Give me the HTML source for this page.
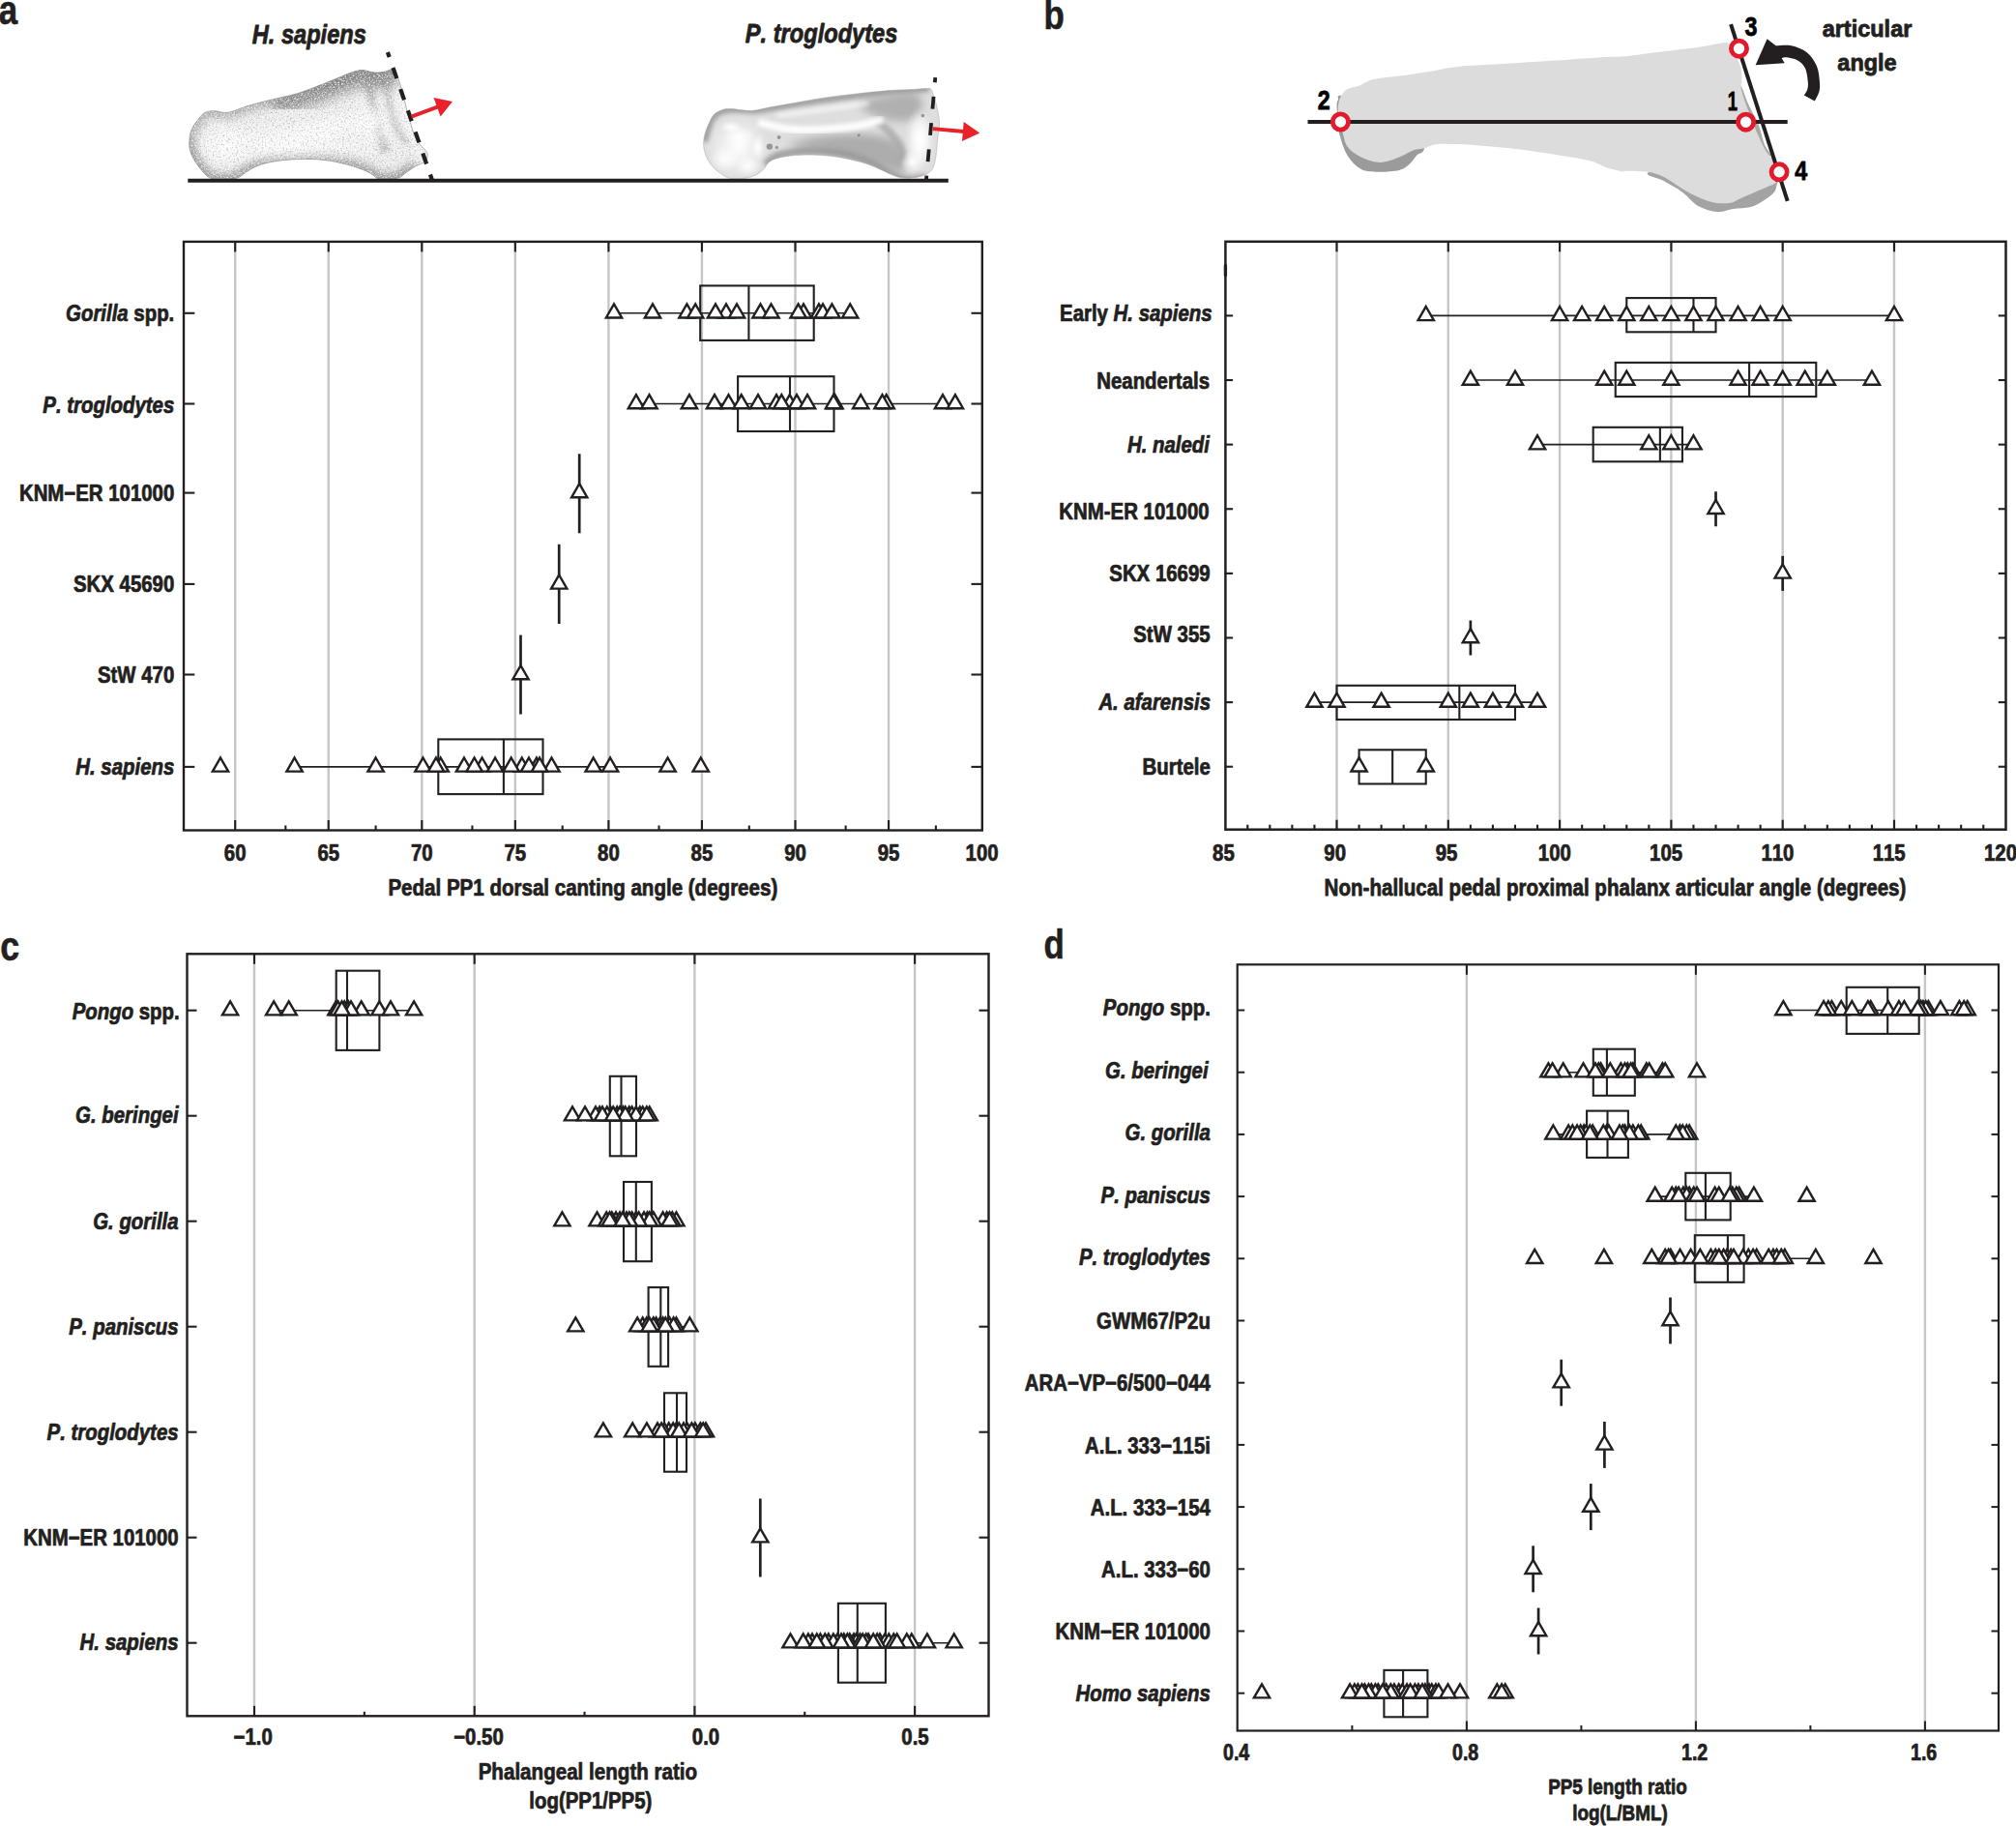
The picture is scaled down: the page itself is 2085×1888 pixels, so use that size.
<!DOCTYPE html>
<html lang="en"><head><meta charset="utf-8"><title>Figure</title>
<style>html,body{margin:0;padding:0;background:#fff}svg{display:block}</style></head>
<body>
<svg width="2085" height="1888" viewBox="0 0 2085 1888" font-family="'Liberation Sans', Arial, Helvetica, sans-serif" font-weight="bold" font-kerning="none" style="font-kerning:none">
<rect width="2085" height="1888" fill="#fff"/>
<defs><clipPath id="clipH"><path d="M218.8 184.7C213.2 182.5 208.9 176.6 205.3 172.0C201.6 167.4 198.4 161.6 196.9 156.8C195.3 152.1 195.7 147.3 196.0 143.3C196.3 139.4 197.0 136.6 198.5 133.2C200.1 129.8 203.0 125.9 205.3 123.1C207.5 120.3 209.2 117.8 212.0 116.4C214.9 115.0 218.2 114.7 222.2 114.7C226.1 114.7 230.0 117.2 235.6 116.4C241.3 115.5 248.3 111.9 255.9 109.6C263.5 107.4 272.7 105.0 281.2 102.9C289.6 100.8 298.0 99.5 306.5 97.0C314.9 94.4 324.7 90.4 331.8 87.7C338.8 85.0 343.0 83.2 348.6 80.9C354.3 78.7 361.0 75.6 365.5 74.2C370.0 72.8 372.0 72.4 375.6 72.5C379.3 72.7 383.8 74.8 387.4 75.0C391.1 75.3 394.7 74.8 397.5 74.2C400.3 73.6 402.7 72.2 404.3 71.7C405.9 71.1 406.3 70.0 407.3 70.8C408.3 71.7 408.9 73.2 410.2 76.7C411.5 80.2 413.3 85.0 415.2 91.9C417.2 98.8 419.5 109.5 422.0 118.0C424.5 126.6 427.1 137.2 430.1 143.3C433.0 149.5 437.7 152.3 439.7 155.1C441.7 158.0 442.2 158.2 442.2 160.2C442.2 162.2 441.8 165.0 439.7 166.9C437.6 168.9 433.0 170.0 429.6 172.0C426.2 174.0 422.3 176.8 419.5 178.8C416.6 180.7 416.1 182.7 412.7 183.8C409.3 184.9 402.9 185.0 399.2 185.2C395.6 185.3 393.6 185.7 390.8 184.7C388.0 183.6 386.6 180.9 382.4 178.8C378.1 176.6 372.5 174.1 365.5 172.0C358.5 169.9 348.6 167.4 340.2 166.1C331.8 164.8 323.3 164.4 314.9 164.4C306.5 164.4 297.2 165.1 289.6 166.1C282.0 167.1 275.0 168.5 269.4 170.3C263.8 172.1 259.5 175.0 255.9 177.1C252.2 179.2 250.3 181.6 247.5 183.0C244.6 184.3 243.8 184.9 239.0 185.2C234.2 185.4 224.4 186.8 218.8 184.7Z"/></clipPath>
<linearGradient id="gH" x1="0" y1="0" x2="0" y2="1"><stop offset="0" stop-color="#a8a8a8"/><stop offset="0.25" stop-color="#cfcfcf"/><stop offset="0.6" stop-color="#ececec"/><stop offset="0.85" stop-color="#dedede"/><stop offset="1" stop-color="#b8b8b8"/></linearGradient>
<radialGradient id="gHw" cx="0.5" cy="0.5" r="0.5"><stop offset="0" stop-color="#fff" stop-opacity="0.95"/><stop offset="1" stop-color="#fff" stop-opacity="0"/></radialGradient>
<radialGradient id="gHd" cx="0.5" cy="0.5" r="0.5"><stop offset="0" stop-color="#8c8c8c" stop-opacity="0.75"/><stop offset="1" stop-color="#8c8c8c" stop-opacity="0"/></radialGradient>
<filter id="noise" x="0" y="0" width="100%" height="100%"><feTurbulence type="fractalNoise" baseFrequency="0.55" numOctaves="2" seed="3" result="n"/><feColorMatrix type="matrix" values="0 0 0 0 0.35  0 0 0 0 0.35  0 0 0 0 0.35  1.8 0 0 0 -0.86"/></filter>
<filter id="noiseW" x="0" y="0" width="100%" height="100%"><feTurbulence type="fractalNoise" baseFrequency="0.6" numOctaves="2" seed="8" result="n"/><feColorMatrix type="matrix" values="0 0 0 0 1  0 0 0 0 1  0 0 0 0 1  0 2.2 0 0 -0.95"/></filter>
<filter id="blur2" x="-30%" y="-30%" width="160%" height="160%"><feGaussianBlur stdDeviation="2"/></filter>
<filter id="blur4" x="-30%" y="-30%" width="160%" height="160%"><feGaussianBlur stdDeviation="4"/></filter>
<filter id="blur6" x="-30%" y="-30%" width="160%" height="160%"><feGaussianBlur stdDeviation="6"/></filter>
<clipPath id="clipC"><path d="M755.6 184.7C750.9 183.5 746.1 180.3 742.2 177.1C738.2 173.8 734.4 169.5 732.0 165.3C729.7 161.0 728.4 156.0 727.8 151.8C727.3 147.6 727.8 143.9 728.7 140.0C729.5 136.0 731.2 131.8 732.9 128.2C734.6 124.5 736.1 120.6 738.8 118.0C741.5 115.5 745.8 113.9 748.9 113.0C752.0 112.1 754.2 112.5 757.3 112.6C760.4 112.8 763.8 113.5 767.5 113.8C771.1 114.1 774.8 114.8 779.3 114.3C783.8 113.9 788.0 112.5 794.4 111.3C800.9 110.1 808.5 108.8 818.0 107.1C827.6 105.4 840.5 102.9 851.8 101.2C863.0 99.5 874.3 98.2 885.5 97.0C896.7 95.7 909.4 94.4 919.2 93.6C929.1 92.8 937.8 92.8 944.5 92.4C951.3 92.0 956.6 91.3 959.7 91.4C962.8 91.5 961.9 91.1 963.1 92.7C964.2 94.4 965.3 97.5 966.4 101.2C967.6 104.8 969.0 110.2 969.8 114.7C970.7 119.2 971.5 123.4 971.5 128.2C971.5 132.9 970.4 138.0 969.8 143.3C969.3 148.7 968.8 155.4 968.1 160.2C967.4 165.0 966.9 168.9 965.6 172.0C964.3 175.1 963.2 176.9 960.5 178.8C957.9 180.6 953.7 182.1 949.6 183.0C945.5 183.9 940.0 184.3 936.1 184.1C932.2 184.0 930.2 183.6 926.0 182.1C921.8 180.7 916.1 177.6 910.8 175.4C905.5 173.1 901.0 170.7 893.9 168.6C886.9 166.5 877.1 164.1 868.6 162.7C860.2 161.3 851.8 160.5 843.3 160.2C834.9 159.9 825.1 160.3 818.0 161.0C811.0 161.7 805.1 163.2 801.2 164.4C797.2 165.7 796.4 166.8 794.4 168.6C792.5 170.5 791.6 173.3 789.4 175.4C787.1 177.5 784.0 179.8 780.9 181.3C777.9 182.7 775.0 183.6 770.8 184.1C766.6 184.7 760.4 185.8 755.6 184.7Z"/></clipPath>
<linearGradient id="gC" x1="0" y1="0" x2="0" y2="1"><stop offset="0" stop-color="#b5b5b5"/><stop offset="0.2" stop-color="#d9d9d9"/><stop offset="0.55" stop-color="#eeeeee"/><stop offset="0.85" stop-color="#e2e2e2"/><stop offset="1" stop-color="#bdbdbd"/></linearGradient></defs>
<text transform="translate(-1.20,24.50) scale(0.83,1)" font-size="42" text-anchor="start" fill="#231f20" stroke="#231f20" stroke-width="0.6" stroke-linejoin="round">a</text>
<text transform="translate(1079.60,30.10) scale(0.83,1)" font-size="42" text-anchor="start" fill="#231f20" stroke="#231f20" stroke-width="0.6" stroke-linejoin="round">b</text>
<text transform="translate(0.20,992.50) scale(0.85,1)" font-size="42" text-anchor="start" fill="#231f20" stroke="#231f20" stroke-width="0.6" stroke-linejoin="round">c</text>
<text transform="translate(1079.60,990.70) scale(0.83,1)" font-size="42" text-anchor="start" fill="#231f20" stroke="#231f20" stroke-width="0.6" stroke-linejoin="round">d</text>
<line x1="243.20" y1="249.90" x2="243.20" y2="858.50" stroke="#c6c6c6" stroke-width="2.4"/>
<line x1="339.75" y1="249.90" x2="339.75" y2="858.50" stroke="#c6c6c6" stroke-width="2.4"/>
<line x1="436.30" y1="249.90" x2="436.30" y2="858.50" stroke="#c6c6c6" stroke-width="2.4"/>
<line x1="532.85" y1="249.90" x2="532.85" y2="858.50" stroke="#c6c6c6" stroke-width="2.4"/>
<line x1="629.40" y1="249.90" x2="629.40" y2="858.50" stroke="#c6c6c6" stroke-width="2.4"/>
<line x1="725.95" y1="249.90" x2="725.95" y2="858.50" stroke="#c6c6c6" stroke-width="2.4"/>
<line x1="822.50" y1="249.90" x2="822.50" y2="858.50" stroke="#c6c6c6" stroke-width="2.4"/>
<line x1="919.05" y1="249.90" x2="919.05" y2="858.50" stroke="#c6c6c6" stroke-width="2.4"/>
<rect x="190.0" y="249.9" width="825.80" height="608.60" fill="none" stroke="#231f20" stroke-width="2.4"/>
<line x1="243.20" y1="249.90" x2="243.20" y2="260.40" stroke="#231f20" stroke-width="2.1"/>
<line x1="339.75" y1="249.90" x2="339.75" y2="260.40" stroke="#231f20" stroke-width="2.1"/>
<line x1="436.30" y1="249.90" x2="436.30" y2="260.40" stroke="#231f20" stroke-width="2.1"/>
<line x1="532.85" y1="249.90" x2="532.85" y2="260.40" stroke="#231f20" stroke-width="2.1"/>
<line x1="629.40" y1="249.90" x2="629.40" y2="260.40" stroke="#231f20" stroke-width="2.1"/>
<line x1="725.95" y1="249.90" x2="725.95" y2="260.40" stroke="#231f20" stroke-width="2.1"/>
<line x1="822.50" y1="249.90" x2="822.50" y2="260.40" stroke="#231f20" stroke-width="2.1"/>
<line x1="919.05" y1="249.90" x2="919.05" y2="260.40" stroke="#231f20" stroke-width="2.1"/>
<line x1="243.20" y1="858.50" x2="243.20" y2="848.00" stroke="#231f20" stroke-width="2.1"/>
<line x1="339.75" y1="858.50" x2="339.75" y2="848.00" stroke="#231f20" stroke-width="2.1"/>
<line x1="436.30" y1="858.50" x2="436.30" y2="848.00" stroke="#231f20" stroke-width="2.1"/>
<line x1="532.85" y1="858.50" x2="532.85" y2="848.00" stroke="#231f20" stroke-width="2.1"/>
<line x1="629.40" y1="858.50" x2="629.40" y2="848.00" stroke="#231f20" stroke-width="2.1"/>
<line x1="725.95" y1="858.50" x2="725.95" y2="848.00" stroke="#231f20" stroke-width="2.1"/>
<line x1="822.50" y1="858.50" x2="822.50" y2="848.00" stroke="#231f20" stroke-width="2.1"/>
<line x1="919.05" y1="858.50" x2="919.05" y2="848.00" stroke="#231f20" stroke-width="2.1"/>
<line x1="295.34" y1="858.50" x2="295.34" y2="853.50" stroke="#231f20" stroke-width="2.1"/>
<line x1="388.60" y1="858.50" x2="388.60" y2="853.50" stroke="#231f20" stroke-width="2.1"/>
<line x1="488.44" y1="858.50" x2="488.44" y2="853.50" stroke="#231f20" stroke-width="2.1"/>
<line x1="581.70" y1="858.50" x2="581.70" y2="853.50" stroke="#231f20" stroke-width="2.1"/>
<line x1="681.54" y1="858.50" x2="681.54" y2="853.50" stroke="#231f20" stroke-width="2.1"/>
<line x1="774.80" y1="858.50" x2="774.80" y2="853.50" stroke="#231f20" stroke-width="2.1"/>
<line x1="874.64" y1="858.50" x2="874.64" y2="853.50" stroke="#231f20" stroke-width="2.1"/>
<line x1="967.90" y1="858.50" x2="967.90" y2="853.50" stroke="#231f20" stroke-width="2.1"/>
<line x1="190.00" y1="323.80" x2="201.30" y2="323.80" stroke="#231f20" stroke-width="2.1"/>
<line x1="1015.80" y1="323.80" x2="1004.50" y2="323.80" stroke="#231f20" stroke-width="2.1"/>
<line x1="190.00" y1="417.50" x2="201.30" y2="417.50" stroke="#231f20" stroke-width="2.1"/>
<line x1="1015.80" y1="417.50" x2="1004.50" y2="417.50" stroke="#231f20" stroke-width="2.1"/>
<line x1="190.00" y1="509.60" x2="201.30" y2="509.60" stroke="#231f20" stroke-width="2.1"/>
<line x1="1015.80" y1="509.60" x2="1004.50" y2="509.60" stroke="#231f20" stroke-width="2.1"/>
<line x1="190.00" y1="603.90" x2="201.30" y2="603.90" stroke="#231f20" stroke-width="2.1"/>
<line x1="1015.80" y1="603.90" x2="1004.50" y2="603.90" stroke="#231f20" stroke-width="2.1"/>
<line x1="190.00" y1="697.50" x2="201.30" y2="697.50" stroke="#231f20" stroke-width="2.1"/>
<line x1="1015.80" y1="697.50" x2="1004.50" y2="697.50" stroke="#231f20" stroke-width="2.1"/>
<line x1="190.00" y1="792.90" x2="201.30" y2="792.90" stroke="#231f20" stroke-width="2.1"/>
<line x1="1015.80" y1="792.90" x2="1004.50" y2="792.90" stroke="#231f20" stroke-width="2.1"/>
<rect x="724.20" y="295.40" width="117.50" height="56.50" fill="none" stroke="#231f20" stroke-width="2.1"/>
<line x1="774.40" y1="295.40" x2="774.40" y2="351.90" stroke="#231f20" stroke-width="2.1"/>
<line x1="635.00" y1="323.80" x2="879.20" y2="323.80" stroke="#231f20" stroke-width="1.6"/>
<path d="M710.40 314.40L718.54 328.50L702.26 328.50Z" fill="#fff" stroke="#231f20" stroke-width="2.4" stroke-linejoin="miter"/>
<path d="M751.00 314.40L759.14 328.50L742.86 328.50Z" fill="#fff" stroke="#231f20" stroke-width="2.4" stroke-linejoin="miter"/>
<path d="M786.50 314.40L794.64 328.50L778.36 328.50Z" fill="#fff" stroke="#231f20" stroke-width="2.4" stroke-linejoin="miter"/>
<path d="M831.00 314.40L839.14 328.50L822.86 328.50Z" fill="#fff" stroke="#231f20" stroke-width="2.4" stroke-linejoin="miter"/>
<path d="M846.90 314.40L855.04 328.50L838.76 328.50Z" fill="#fff" stroke="#231f20" stroke-width="2.4" stroke-linejoin="miter"/>
<path d="M635.00 314.40L643.14 328.50L626.86 328.50Z" fill="#fff" stroke="#231f20" stroke-width="2.4" stroke-linejoin="miter"/>
<path d="M675.00 314.40L683.14 328.50L666.86 328.50Z" fill="#fff" stroke="#231f20" stroke-width="2.4" stroke-linejoin="miter"/>
<path d="M719.20 314.40L727.34 328.50L711.06 328.50Z" fill="#fff" stroke="#231f20" stroke-width="2.4" stroke-linejoin="miter"/>
<path d="M740.00 314.40L748.14 328.50L731.86 328.50Z" fill="#fff" stroke="#231f20" stroke-width="2.4" stroke-linejoin="miter"/>
<path d="M762.00 314.40L770.14 328.50L753.86 328.50Z" fill="#fff" stroke="#231f20" stroke-width="2.4" stroke-linejoin="miter"/>
<path d="M797.50 314.40L805.64 328.50L789.36 328.50Z" fill="#fff" stroke="#231f20" stroke-width="2.4" stroke-linejoin="miter"/>
<path d="M825.60 314.40L833.74 328.50L817.46 328.50Z" fill="#fff" stroke="#231f20" stroke-width="2.4" stroke-linejoin="miter"/>
<path d="M851.00 314.40L859.14 328.50L842.86 328.50Z" fill="#fff" stroke="#231f20" stroke-width="2.4" stroke-linejoin="miter"/>
<path d="M860.40 314.40L868.54 328.50L852.26 328.50Z" fill="#fff" stroke="#231f20" stroke-width="2.4" stroke-linejoin="miter"/>
<path d="M879.20 314.40L887.34 328.50L871.06 328.50Z" fill="#fff" stroke="#231f20" stroke-width="2.4" stroke-linejoin="miter"/>
<rect x="763.10" y="389.20" width="99.40" height="56.80" fill="none" stroke="#231f20" stroke-width="2.1"/>
<line x1="817.00" y1="389.20" x2="817.00" y2="446.00" stroke="#231f20" stroke-width="2.1"/>
<line x1="657.90" y1="417.50" x2="987.90" y2="417.50" stroke="#231f20" stroke-width="1.6"/>
<path d="M803.00 408.10L811.14 422.20L794.86 422.20Z" fill="#fff" stroke="#231f20" stroke-width="2.4" stroke-linejoin="miter"/>
<path d="M816.70 408.10L824.84 422.20L808.56 422.20Z" fill="#fff" stroke="#231f20" stroke-width="2.4" stroke-linejoin="miter"/>
<path d="M863.50 408.10L871.64 422.20L855.36 422.20Z" fill="#fff" stroke="#231f20" stroke-width="2.4" stroke-linejoin="miter"/>
<path d="M916.70 408.10L924.84 422.20L908.56 422.20Z" fill="#fff" stroke="#231f20" stroke-width="2.4" stroke-linejoin="miter"/>
<path d="M657.90 408.10L666.04 422.20L649.76 422.20Z" fill="#fff" stroke="#231f20" stroke-width="2.4" stroke-linejoin="miter"/>
<path d="M671.50 408.10L679.64 422.20L663.36 422.20Z" fill="#fff" stroke="#231f20" stroke-width="2.4" stroke-linejoin="miter"/>
<path d="M712.90 408.10L721.04 422.20L704.76 422.20Z" fill="#fff" stroke="#231f20" stroke-width="2.4" stroke-linejoin="miter"/>
<path d="M739.00 408.10L747.14 422.20L730.86 422.20Z" fill="#fff" stroke="#231f20" stroke-width="2.4" stroke-linejoin="miter"/>
<path d="M753.50 408.10L761.64 422.20L745.36 422.20Z" fill="#fff" stroke="#231f20" stroke-width="2.4" stroke-linejoin="miter"/>
<path d="M766.70 408.10L774.84 422.20L758.56 422.20Z" fill="#fff" stroke="#231f20" stroke-width="2.4" stroke-linejoin="miter"/>
<path d="M784.00 408.10L792.14 422.20L775.86 422.20Z" fill="#fff" stroke="#231f20" stroke-width="2.4" stroke-linejoin="miter"/>
<path d="M808.30 408.10L816.44 422.20L800.16 422.20Z" fill="#fff" stroke="#231f20" stroke-width="2.4" stroke-linejoin="miter"/>
<path d="M824.00 408.10L832.14 422.20L815.86 422.20Z" fill="#fff" stroke="#231f20" stroke-width="2.4" stroke-linejoin="miter"/>
<path d="M835.00 408.10L843.14 422.20L826.86 422.20Z" fill="#fff" stroke="#231f20" stroke-width="2.4" stroke-linejoin="miter"/>
<path d="M862.00 408.10L870.14 422.20L853.86 422.20Z" fill="#fff" stroke="#231f20" stroke-width="2.4" stroke-linejoin="miter"/>
<path d="M890.20 408.10L898.34 422.20L882.06 422.20Z" fill="#fff" stroke="#231f20" stroke-width="2.4" stroke-linejoin="miter"/>
<path d="M912.50 408.10L920.64 422.20L904.36 422.20Z" fill="#fff" stroke="#231f20" stroke-width="2.4" stroke-linejoin="miter"/>
<path d="M975.00 408.10L983.14 422.20L966.86 422.20Z" fill="#fff" stroke="#231f20" stroke-width="2.4" stroke-linejoin="miter"/>
<path d="M987.90 408.10L996.04 422.20L979.76 422.20Z" fill="#fff" stroke="#231f20" stroke-width="2.4" stroke-linejoin="miter"/>
<line x1="599.20" y1="469.30" x2="599.20" y2="551.30" stroke="#231f20" stroke-width="2.7"/>
<path d="M599.20 500.20L607.34 514.30L591.06 514.30Z" fill="#fff" stroke="#231f20" stroke-width="2.4" stroke-linejoin="miter"/>
<line x1="578.20" y1="562.80" x2="578.20" y2="645.00" stroke="#231f20" stroke-width="2.7"/>
<path d="M578.20 594.50L586.34 608.60L570.06 608.60Z" fill="#fff" stroke="#231f20" stroke-width="2.4" stroke-linejoin="miter"/>
<line x1="538.50" y1="656.60" x2="538.50" y2="738.50" stroke="#231f20" stroke-width="2.7"/>
<path d="M538.50 688.10L546.64 702.20L530.36 702.20Z" fill="#fff" stroke="#231f20" stroke-width="2.4" stroke-linejoin="miter"/>
<rect x="453.30" y="764.40" width="108.20" height="56.70" fill="none" stroke="#231f20" stroke-width="2.1"/>
<line x1="520.90" y1="764.40" x2="520.90" y2="821.10" stroke="#231f20" stroke-width="2.1"/>
<line x1="304.60" y1="792.90" x2="690.60" y2="792.90" stroke="#231f20" stroke-width="1.6"/>
<path d="M455.70 783.50L463.84 797.60L447.56 797.60Z" fill="#fff" stroke="#231f20" stroke-width="2.4" stroke-linejoin="miter"/>
<path d="M480.00 783.50L488.14 797.60L471.86 797.60Z" fill="#fff" stroke="#231f20" stroke-width="2.4" stroke-linejoin="miter"/>
<path d="M498.60 783.50L506.74 797.60L490.46 797.60Z" fill="#fff" stroke="#231f20" stroke-width="2.4" stroke-linejoin="miter"/>
<path d="M539.80 783.50L547.94 797.60L531.66 797.60Z" fill="#fff" stroke="#231f20" stroke-width="2.4" stroke-linejoin="miter"/>
<path d="M555.00 783.50L563.14 797.60L546.86 797.60Z" fill="#fff" stroke="#231f20" stroke-width="2.4" stroke-linejoin="miter"/>
<path d="M570.50 783.50L578.64 797.60L562.36 797.60Z" fill="#fff" stroke="#231f20" stroke-width="2.4" stroke-linejoin="miter"/>
<path d="M228.00 783.50L236.14 797.60L219.86 797.60Z" fill="#fff" stroke="#231f20" stroke-width="2.4" stroke-linejoin="miter"/>
<path d="M304.60 783.50L312.74 797.60L296.46 797.60Z" fill="#fff" stroke="#231f20" stroke-width="2.4" stroke-linejoin="miter"/>
<path d="M388.60 783.50L396.74 797.60L380.46 797.60Z" fill="#fff" stroke="#231f20" stroke-width="2.4" stroke-linejoin="miter"/>
<path d="M437.50 783.50L445.64 797.60L429.36 797.60Z" fill="#fff" stroke="#231f20" stroke-width="2.4" stroke-linejoin="miter"/>
<path d="M451.00 783.50L459.14 797.60L442.86 797.60Z" fill="#fff" stroke="#231f20" stroke-width="2.4" stroke-linejoin="miter"/>
<path d="M490.60 783.50L498.74 797.60L482.46 797.60Z" fill="#fff" stroke="#231f20" stroke-width="2.4" stroke-linejoin="miter"/>
<path d="M512.10 783.50L520.24 797.60L503.96 797.60Z" fill="#fff" stroke="#231f20" stroke-width="2.4" stroke-linejoin="miter"/>
<path d="M528.70 783.50L536.84 797.60L520.56 797.60Z" fill="#fff" stroke="#231f20" stroke-width="2.4" stroke-linejoin="miter"/>
<path d="M547.00 783.50L555.14 797.60L538.86 797.60Z" fill="#fff" stroke="#231f20" stroke-width="2.4" stroke-linejoin="miter"/>
<path d="M558.10 783.50L566.24 797.60L549.96 797.60Z" fill="#fff" stroke="#231f20" stroke-width="2.4" stroke-linejoin="miter"/>
<path d="M613.70 783.50L621.84 797.60L605.56 797.60Z" fill="#fff" stroke="#231f20" stroke-width="2.4" stroke-linejoin="miter"/>
<path d="M631.10 783.50L639.24 797.60L622.96 797.60Z" fill="#fff" stroke="#231f20" stroke-width="2.4" stroke-linejoin="miter"/>
<path d="M690.60 783.50L698.74 797.60L682.46 797.60Z" fill="#fff" stroke="#231f20" stroke-width="2.4" stroke-linejoin="miter"/>
<path d="M724.80 783.50L732.94 797.60L716.66 797.60Z" fill="#fff" stroke="#231f20" stroke-width="2.4" stroke-linejoin="miter"/>
<text transform="translate(180.30,332.40) scale(0.85,1)" font-size="24" text-anchor="end" fill="#231f20" stroke="#231f20" stroke-width="0.75" stroke-linejoin="round"><tspan font-style="italic">Gorilla</tspan> spp.</text>
<text transform="translate(180.30,427.00) scale(0.85,1)" font-size="24" text-anchor="end" fill="#231f20" stroke="#231f20" stroke-width="0.75" stroke-linejoin="round"><tspan font-style="italic">P. troglodytes</tspan></text>
<text transform="translate(180.30,518.00) scale(0.85,1)" font-size="24" text-anchor="end" fill="#231f20" stroke="#231f20" stroke-width="0.75" stroke-linejoin="round">KNM−ER 101000</text>
<text transform="translate(180.30,612.40) scale(0.85,1)" font-size="24" text-anchor="end" fill="#231f20" stroke="#231f20" stroke-width="0.75" stroke-linejoin="round">SKX 45690</text>
<text transform="translate(180.30,706.10) scale(0.85,1)" font-size="24" text-anchor="end" fill="#231f20" stroke="#231f20" stroke-width="0.75" stroke-linejoin="round">StW 470</text>
<text transform="translate(180.30,801.00) scale(0.85,1)" font-size="24" text-anchor="end" fill="#231f20" stroke="#231f20" stroke-width="0.75" stroke-linejoin="round"><tspan font-style="italic">H. sapiens</tspan></text>
<text transform="translate(243.20,889.60) scale(0.85,1)" font-size="24" text-anchor="middle" fill="#231f20" stroke="#231f20" stroke-width="0.75" stroke-linejoin="round">60</text>
<text transform="translate(339.75,889.60) scale(0.85,1)" font-size="24" text-anchor="middle" fill="#231f20" stroke="#231f20" stroke-width="0.75" stroke-linejoin="round">65</text>
<text transform="translate(436.30,889.60) scale(0.85,1)" font-size="24" text-anchor="middle" fill="#231f20" stroke="#231f20" stroke-width="0.75" stroke-linejoin="round">70</text>
<text transform="translate(532.85,889.60) scale(0.85,1)" font-size="24" text-anchor="middle" fill="#231f20" stroke="#231f20" stroke-width="0.75" stroke-linejoin="round">75</text>
<text transform="translate(629.40,889.60) scale(0.85,1)" font-size="24" text-anchor="middle" fill="#231f20" stroke="#231f20" stroke-width="0.75" stroke-linejoin="round">80</text>
<text transform="translate(725.95,889.60) scale(0.85,1)" font-size="24" text-anchor="middle" fill="#231f20" stroke="#231f20" stroke-width="0.75" stroke-linejoin="round">85</text>
<text transform="translate(822.50,889.60) scale(0.85,1)" font-size="24" text-anchor="middle" fill="#231f20" stroke="#231f20" stroke-width="0.75" stroke-linejoin="round">90</text>
<text transform="translate(919.05,889.60) scale(0.85,1)" font-size="24" text-anchor="middle" fill="#231f20" stroke="#231f20" stroke-width="0.75" stroke-linejoin="round">95</text>
<text transform="translate(1015.60,889.60) scale(0.85,1)" font-size="24" text-anchor="middle" fill="#231f20" stroke="#231f20" stroke-width="0.75" stroke-linejoin="round">100</text>
<text transform="translate(602.80,925.60) scale(0.856,1)" font-size="24" text-anchor="middle" fill="#231f20" stroke="#231f20" stroke-width="0.75" stroke-linejoin="round">Pedal PP1 dorsal canting angle (degrees)</text>
<line x1="1382.50" y1="249.80" x2="1382.50" y2="857.70" stroke="#c6c6c6" stroke-width="2.4"/>
<line x1="1497.80" y1="249.80" x2="1497.80" y2="857.70" stroke="#c6c6c6" stroke-width="2.4"/>
<line x1="1613.10" y1="249.80" x2="1613.10" y2="857.70" stroke="#c6c6c6" stroke-width="2.4"/>
<line x1="1728.40" y1="249.80" x2="1728.40" y2="857.70" stroke="#c6c6c6" stroke-width="2.4"/>
<line x1="1843.70" y1="249.80" x2="1843.70" y2="857.70" stroke="#c6c6c6" stroke-width="2.4"/>
<line x1="1959.00" y1="249.80" x2="1959.00" y2="857.70" stroke="#c6c6c6" stroke-width="2.4"/>
<rect x="1267.4" y="249.8" width="807.10" height="607.90" fill="none" stroke="#231f20" stroke-width="2.5"/>
<line x1="1382.50" y1="249.80" x2="1382.50" y2="260.30" stroke="#231f20" stroke-width="2.1"/>
<line x1="1497.80" y1="249.80" x2="1497.80" y2="260.30" stroke="#231f20" stroke-width="2.1"/>
<line x1="1613.10" y1="249.80" x2="1613.10" y2="260.30" stroke="#231f20" stroke-width="2.1"/>
<line x1="1728.40" y1="249.80" x2="1728.40" y2="260.30" stroke="#231f20" stroke-width="2.1"/>
<line x1="1843.70" y1="249.80" x2="1843.70" y2="260.30" stroke="#231f20" stroke-width="2.1"/>
<line x1="1959.00" y1="249.80" x2="1959.00" y2="260.30" stroke="#231f20" stroke-width="2.1"/>
<line x1="1382.50" y1="857.70" x2="1382.50" y2="847.70" stroke="#231f20" stroke-width="2.1"/>
<line x1="1497.80" y1="857.70" x2="1497.80" y2="847.70" stroke="#231f20" stroke-width="2.1"/>
<line x1="1613.10" y1="857.70" x2="1613.10" y2="847.70" stroke="#231f20" stroke-width="2.1"/>
<line x1="1728.40" y1="857.70" x2="1728.40" y2="847.70" stroke="#231f20" stroke-width="2.1"/>
<line x1="1843.70" y1="857.70" x2="1843.70" y2="847.70" stroke="#231f20" stroke-width="2.1"/>
<line x1="1959.00" y1="857.70" x2="1959.00" y2="847.70" stroke="#231f20" stroke-width="2.1"/>
<line x1="1290.26" y1="857.70" x2="1290.26" y2="852.70" stroke="#231f20" stroke-width="2.1"/>
<line x1="1313.32" y1="857.70" x2="1313.32" y2="852.70" stroke="#231f20" stroke-width="2.1"/>
<line x1="1336.38" y1="857.70" x2="1336.38" y2="852.70" stroke="#231f20" stroke-width="2.1"/>
<line x1="1359.44" y1="857.70" x2="1359.44" y2="852.70" stroke="#231f20" stroke-width="2.1"/>
<line x1="1405.56" y1="857.70" x2="1405.56" y2="852.70" stroke="#231f20" stroke-width="2.1"/>
<line x1="1428.62" y1="857.70" x2="1428.62" y2="852.70" stroke="#231f20" stroke-width="2.1"/>
<line x1="1451.68" y1="857.70" x2="1451.68" y2="852.70" stroke="#231f20" stroke-width="2.1"/>
<line x1="1474.74" y1="857.70" x2="1474.74" y2="852.70" stroke="#231f20" stroke-width="2.1"/>
<line x1="1520.86" y1="857.70" x2="1520.86" y2="852.70" stroke="#231f20" stroke-width="2.1"/>
<line x1="1543.92" y1="857.70" x2="1543.92" y2="852.70" stroke="#231f20" stroke-width="2.1"/>
<line x1="1566.98" y1="857.70" x2="1566.98" y2="852.70" stroke="#231f20" stroke-width="2.1"/>
<line x1="1590.04" y1="857.70" x2="1590.04" y2="852.70" stroke="#231f20" stroke-width="2.1"/>
<line x1="1636.16" y1="857.70" x2="1636.16" y2="852.70" stroke="#231f20" stroke-width="2.1"/>
<line x1="1659.22" y1="857.70" x2="1659.22" y2="852.70" stroke="#231f20" stroke-width="2.1"/>
<line x1="1682.28" y1="857.70" x2="1682.28" y2="852.70" stroke="#231f20" stroke-width="2.1"/>
<line x1="1705.34" y1="857.70" x2="1705.34" y2="852.70" stroke="#231f20" stroke-width="2.1"/>
<line x1="1751.46" y1="857.70" x2="1751.46" y2="852.70" stroke="#231f20" stroke-width="2.1"/>
<line x1="1774.52" y1="857.70" x2="1774.52" y2="852.70" stroke="#231f20" stroke-width="2.1"/>
<line x1="1797.58" y1="857.70" x2="1797.58" y2="852.70" stroke="#231f20" stroke-width="2.1"/>
<line x1="1820.64" y1="857.70" x2="1820.64" y2="852.70" stroke="#231f20" stroke-width="2.1"/>
<line x1="1866.76" y1="857.70" x2="1866.76" y2="852.70" stroke="#231f20" stroke-width="2.1"/>
<line x1="1889.82" y1="857.70" x2="1889.82" y2="852.70" stroke="#231f20" stroke-width="2.1"/>
<line x1="1912.88" y1="857.70" x2="1912.88" y2="852.70" stroke="#231f20" stroke-width="2.1"/>
<line x1="1935.94" y1="857.70" x2="1935.94" y2="852.70" stroke="#231f20" stroke-width="2.1"/>
<line x1="1982.06" y1="857.70" x2="1982.06" y2="852.70" stroke="#231f20" stroke-width="2.1"/>
<line x1="2005.12" y1="857.70" x2="2005.12" y2="852.70" stroke="#231f20" stroke-width="2.1"/>
<line x1="2028.18" y1="857.70" x2="2028.18" y2="852.70" stroke="#231f20" stroke-width="2.1"/>
<line x1="2051.24" y1="857.70" x2="2051.24" y2="852.70" stroke="#231f20" stroke-width="2.1"/>
<line x1="1267.40" y1="326.40" x2="1275.10" y2="326.40" stroke="#231f20" stroke-width="2.1"/>
<line x1="2074.50" y1="326.40" x2="2066.80" y2="326.40" stroke="#231f20" stroke-width="2.1"/>
<line x1="1267.40" y1="393.02" x2="1275.10" y2="393.02" stroke="#231f20" stroke-width="2.1"/>
<line x1="2074.50" y1="393.02" x2="2066.80" y2="393.02" stroke="#231f20" stroke-width="2.1"/>
<line x1="1267.40" y1="459.64" x2="1275.10" y2="459.64" stroke="#231f20" stroke-width="2.1"/>
<line x1="2074.50" y1="459.64" x2="2066.80" y2="459.64" stroke="#231f20" stroke-width="2.1"/>
<line x1="1267.40" y1="526.26" x2="1275.10" y2="526.26" stroke="#231f20" stroke-width="2.1"/>
<line x1="2074.50" y1="526.26" x2="2066.80" y2="526.26" stroke="#231f20" stroke-width="2.1"/>
<line x1="1267.40" y1="592.88" x2="1275.10" y2="592.88" stroke="#231f20" stroke-width="2.1"/>
<line x1="2074.50" y1="592.88" x2="2066.80" y2="592.88" stroke="#231f20" stroke-width="2.1"/>
<line x1="1267.40" y1="659.50" x2="1275.10" y2="659.50" stroke="#231f20" stroke-width="2.1"/>
<line x1="2074.50" y1="659.50" x2="2066.80" y2="659.50" stroke="#231f20" stroke-width="2.1"/>
<line x1="1267.40" y1="726.12" x2="1275.10" y2="726.12" stroke="#231f20" stroke-width="2.1"/>
<line x1="2074.50" y1="726.12" x2="2066.80" y2="726.12" stroke="#231f20" stroke-width="2.1"/>
<line x1="1267.40" y1="792.74" x2="1275.10" y2="792.74" stroke="#231f20" stroke-width="2.1"/>
<line x1="2074.50" y1="792.74" x2="2066.80" y2="792.74" stroke="#231f20" stroke-width="2.1"/>
<line x1="1267.4" y1="274.5" x2="1267.4" y2="284.5" stroke="#231f20" stroke-width="3.3" stroke-linecap="round"/>
<rect x="1682.28" y="308.10" width="92.24" height="35.20" fill="none" stroke="#231f20" stroke-width="2.1"/>
<line x1="1751.46" y1="308.10" x2="1751.46" y2="343.30" stroke="#231f20" stroke-width="2.1"/>
<line x1="1474.74" y1="326.40" x2="1959.00" y2="326.40" stroke="#231f20" stroke-width="1.6"/>
<path d="M1774.52 317.00L1782.66 331.10L1766.38 331.10Z" fill="#fff" stroke="#231f20" stroke-width="2.4" stroke-linejoin="miter"/>
<path d="M1959.00 317.00L1967.14 331.10L1950.86 331.10Z" fill="#fff" stroke="#231f20" stroke-width="2.4" stroke-linejoin="miter"/>
<path d="M1474.74 317.00L1482.88 331.10L1466.60 331.10Z" fill="#fff" stroke="#231f20" stroke-width="2.4" stroke-linejoin="miter"/>
<path d="M1843.70 317.00L1851.84 331.10L1835.56 331.10Z" fill="#fff" stroke="#231f20" stroke-width="2.4" stroke-linejoin="miter"/>
<path d="M1705.34 317.00L1713.48 331.10L1697.20 331.10Z" fill="#fff" stroke="#231f20" stroke-width="2.4" stroke-linejoin="miter"/>
<path d="M1659.22 317.00L1667.36 331.10L1651.08 331.10Z" fill="#fff" stroke="#231f20" stroke-width="2.4" stroke-linejoin="miter"/>
<path d="M1728.40 317.00L1736.54 331.10L1720.26 331.10Z" fill="#fff" stroke="#231f20" stroke-width="2.4" stroke-linejoin="miter"/>
<path d="M1751.46 317.00L1759.60 331.10L1743.32 331.10Z" fill="#fff" stroke="#231f20" stroke-width="2.4" stroke-linejoin="miter"/>
<path d="M1820.64 317.00L1828.78 331.10L1812.50 331.10Z" fill="#fff" stroke="#231f20" stroke-width="2.4" stroke-linejoin="miter"/>
<path d="M1682.28 317.00L1690.42 331.10L1674.14 331.10Z" fill="#fff" stroke="#231f20" stroke-width="2.4" stroke-linejoin="miter"/>
<path d="M1613.10 317.00L1621.24 331.10L1604.96 331.10Z" fill="#fff" stroke="#231f20" stroke-width="2.4" stroke-linejoin="miter"/>
<path d="M1797.58 317.00L1805.72 331.10L1789.44 331.10Z" fill="#fff" stroke="#231f20" stroke-width="2.4" stroke-linejoin="miter"/>
<path d="M1636.16 317.00L1644.30 331.10L1628.02 331.10Z" fill="#fff" stroke="#231f20" stroke-width="2.4" stroke-linejoin="miter"/>
<rect x="1670.75" y="374.90" width="207.54" height="35.20" fill="none" stroke="#231f20" stroke-width="2.1"/>
<line x1="1809.11" y1="374.90" x2="1809.11" y2="410.10" stroke="#231f20" stroke-width="2.1"/>
<line x1="1520.86" y1="393.02" x2="1935.94" y2="393.02" stroke="#231f20" stroke-width="1.6"/>
<path d="M1820.64 383.62L1828.78 397.72L1812.50 397.72Z" fill="#fff" stroke="#231f20" stroke-width="2.4" stroke-linejoin="miter"/>
<path d="M1866.76 383.62L1874.90 397.72L1858.62 397.72Z" fill="#fff" stroke="#231f20" stroke-width="2.4" stroke-linejoin="miter"/>
<path d="M1935.94 383.62L1944.08 397.72L1927.80 397.72Z" fill="#fff" stroke="#231f20" stroke-width="2.4" stroke-linejoin="miter"/>
<path d="M1843.70 383.62L1851.84 397.72L1835.56 397.72Z" fill="#fff" stroke="#231f20" stroke-width="2.4" stroke-linejoin="miter"/>
<path d="M1797.58 383.62L1805.72 397.72L1789.44 397.72Z" fill="#fff" stroke="#231f20" stroke-width="2.4" stroke-linejoin="miter"/>
<path d="M1682.28 383.62L1690.42 397.72L1674.14 397.72Z" fill="#fff" stroke="#231f20" stroke-width="2.4" stroke-linejoin="miter"/>
<path d="M1520.86 383.62L1529.00 397.72L1512.72 397.72Z" fill="#fff" stroke="#231f20" stroke-width="2.4" stroke-linejoin="miter"/>
<path d="M1728.40 383.62L1736.54 397.72L1720.26 397.72Z" fill="#fff" stroke="#231f20" stroke-width="2.4" stroke-linejoin="miter"/>
<path d="M1566.98 383.62L1575.12 397.72L1558.84 397.72Z" fill="#fff" stroke="#231f20" stroke-width="2.4" stroke-linejoin="miter"/>
<path d="M1889.82 383.62L1897.96 397.72L1881.68 397.72Z" fill="#fff" stroke="#231f20" stroke-width="2.4" stroke-linejoin="miter"/>
<path d="M1659.22 383.62L1667.36 397.72L1651.08 397.72Z" fill="#fff" stroke="#231f20" stroke-width="2.4" stroke-linejoin="miter"/>
<rect x="1647.69" y="441.80" width="92.24" height="35.50" fill="none" stroke="#231f20" stroke-width="2.1"/>
<line x1="1716.87" y1="441.80" x2="1716.87" y2="477.30" stroke="#231f20" stroke-width="2.1"/>
<line x1="1590.04" y1="459.64" x2="1751.46" y2="459.64" stroke="#231f20" stroke-width="1.6"/>
<path d="M1751.46 450.24L1759.60 464.34L1743.32 464.34Z" fill="#fff" stroke="#231f20" stroke-width="2.4" stroke-linejoin="miter"/>
<path d="M1590.04 450.24L1598.18 464.34L1581.90 464.34Z" fill="#fff" stroke="#231f20" stroke-width="2.4" stroke-linejoin="miter"/>
<path d="M1728.40 450.24L1736.54 464.34L1720.26 464.34Z" fill="#fff" stroke="#231f20" stroke-width="2.4" stroke-linejoin="miter"/>
<path d="M1705.34 450.24L1713.48 464.34L1697.20 464.34Z" fill="#fff" stroke="#231f20" stroke-width="2.4" stroke-linejoin="miter"/>
<line x1="1774.52" y1="508.26" x2="1774.52" y2="544.26" stroke="#231f20" stroke-width="2.7"/>
<path d="M1774.52 516.86L1782.66 530.96L1766.38 530.96Z" fill="#fff" stroke="#231f20" stroke-width="2.4" stroke-linejoin="miter"/>
<line x1="1843.70" y1="574.88" x2="1843.70" y2="610.88" stroke="#231f20" stroke-width="2.7"/>
<path d="M1843.70 583.48L1851.84 597.58L1835.56 597.58Z" fill="#fff" stroke="#231f20" stroke-width="2.4" stroke-linejoin="miter"/>
<line x1="1520.86" y1="641.50" x2="1520.86" y2="677.50" stroke="#231f20" stroke-width="2.7"/>
<path d="M1520.86 650.10L1529.00 664.20L1512.72 664.20Z" fill="#fff" stroke="#231f20" stroke-width="2.4" stroke-linejoin="miter"/>
<rect x="1382.50" y="708.80" width="184.48" height="35.20" fill="none" stroke="#231f20" stroke-width="2.1"/>
<line x1="1509.33" y1="708.80" x2="1509.33" y2="744.00" stroke="#231f20" stroke-width="2.1"/>
<line x1="1359.44" y1="726.12" x2="1590.04" y2="726.12" stroke="#231f20" stroke-width="1.6"/>
<path d="M1497.80 716.72L1505.94 730.82L1489.66 730.82Z" fill="#fff" stroke="#231f20" stroke-width="2.4" stroke-linejoin="miter"/>
<path d="M1566.98 716.72L1575.12 730.82L1558.84 730.82Z" fill="#fff" stroke="#231f20" stroke-width="2.4" stroke-linejoin="miter"/>
<path d="M1382.50 716.72L1390.64 730.82L1374.36 730.82Z" fill="#fff" stroke="#231f20" stroke-width="2.4" stroke-linejoin="miter"/>
<path d="M1543.92 716.72L1552.06 730.82L1535.78 730.82Z" fill="#fff" stroke="#231f20" stroke-width="2.4" stroke-linejoin="miter"/>
<path d="M1590.04 716.72L1598.18 730.82L1581.90 730.82Z" fill="#fff" stroke="#231f20" stroke-width="2.4" stroke-linejoin="miter"/>
<path d="M1359.44 716.72L1367.58 730.82L1351.30 730.82Z" fill="#fff" stroke="#231f20" stroke-width="2.4" stroke-linejoin="miter"/>
<path d="M1520.86 716.72L1529.00 730.82L1512.72 730.82Z" fill="#fff" stroke="#231f20" stroke-width="2.4" stroke-linejoin="miter"/>
<path d="M1428.62 716.72L1436.76 730.82L1420.48 730.82Z" fill="#fff" stroke="#231f20" stroke-width="2.4" stroke-linejoin="miter"/>
<rect x="1405.56" y="775.30" width="69.18" height="35.20" fill="none" stroke="#231f20" stroke-width="2.1"/>
<line x1="1440.15" y1="775.30" x2="1440.15" y2="810.50" stroke="#231f20" stroke-width="2.1"/>
<path d="M1474.74 783.34L1482.88 797.44L1466.60 797.44Z" fill="#fff" stroke="#231f20" stroke-width="2.4" stroke-linejoin="miter"/>
<path d="M1405.56 783.34L1413.70 797.44L1397.42 797.44Z" fill="#fff" stroke="#231f20" stroke-width="2.4" stroke-linejoin="miter"/>
<text transform="translate(1253.60,331.70) scale(0.85,1)" font-size="24" text-anchor="end" fill="#231f20" stroke="#231f20" stroke-width="0.75" stroke-linejoin="round">Early <tspan font-style="italic">H. sapiens</tspan></text>
<text transform="translate(1251.00,401.60) scale(0.85,1)" font-size="24" text-anchor="end" fill="#231f20" stroke="#231f20" stroke-width="0.75" stroke-linejoin="round">Neandertals</text>
<text transform="translate(1251.00,467.80) scale(0.85,1)" font-size="24" text-anchor="end" fill="#231f20" stroke="#231f20" stroke-width="0.75" stroke-linejoin="round"><tspan font-style="italic">H. naledi</tspan></text>
<text transform="translate(1250.60,536.70) scale(0.85,1)" font-size="24" text-anchor="end" fill="#231f20" stroke="#231f20" stroke-width="0.75" stroke-linejoin="round">KNM-ER 101000</text>
<text transform="translate(1251.60,600.90) scale(0.85,1)" font-size="24" text-anchor="end" fill="#231f20" stroke="#231f20" stroke-width="0.75" stroke-linejoin="round">SKX 16699</text>
<text transform="translate(1251.60,664.30) scale(0.85,1)" font-size="24" text-anchor="end" fill="#231f20" stroke="#231f20" stroke-width="0.75" stroke-linejoin="round">StW 355</text>
<text transform="translate(1252.00,734.30) scale(0.85,1)" font-size="24" text-anchor="end" fill="#231f20" stroke="#231f20" stroke-width="0.75" stroke-linejoin="round"><tspan font-style="italic">A. afarensis</tspan></text>
<text transform="translate(1251.80,800.50) scale(0.85,1)" font-size="24" text-anchor="end" fill="#231f20" stroke="#231f20" stroke-width="0.75" stroke-linejoin="round">Burtele</text>
<text transform="translate(1265.40,889.90) scale(0.85,1)" font-size="24" text-anchor="middle" fill="#231f20" stroke="#231f20" stroke-width="0.75" stroke-linejoin="round">85</text>
<text transform="translate(1380.70,889.90) scale(0.85,1)" font-size="24" text-anchor="middle" fill="#231f20" stroke="#231f20" stroke-width="0.75" stroke-linejoin="round">90</text>
<text transform="translate(1496.00,889.90) scale(0.85,1)" font-size="24" text-anchor="middle" fill="#231f20" stroke="#231f20" stroke-width="0.75" stroke-linejoin="round">95</text>
<text transform="translate(1607.80,889.90) scale(0.85,1)" font-size="24" text-anchor="middle" fill="#231f20" stroke="#231f20" stroke-width="0.75" stroke-linejoin="round">100</text>
<text transform="translate(1723.10,889.90) scale(0.85,1)" font-size="24" text-anchor="middle" fill="#231f20" stroke="#231f20" stroke-width="0.75" stroke-linejoin="round">105</text>
<text transform="translate(1838.40,889.90) scale(0.85,1)" font-size="24" text-anchor="middle" fill="#231f20" stroke="#231f20" stroke-width="0.75" stroke-linejoin="round">110</text>
<text transform="translate(1953.70,889.90) scale(0.85,1)" font-size="24" text-anchor="middle" fill="#231f20" stroke="#231f20" stroke-width="0.75" stroke-linejoin="round">115</text>
<text transform="translate(2069.00,889.90) scale(0.85,1)" font-size="24" text-anchor="middle" fill="#231f20" stroke="#231f20" stroke-width="0.75" stroke-linejoin="round">120</text>
<text transform="translate(1670.50,926.20) scale(0.857,1)" font-size="24" text-anchor="middle" fill="#231f20" stroke="#231f20" stroke-width="0.75" stroke-linejoin="round">Non-hallucal pedal proximal phalanx articular angle (degrees)</text>
<line x1="263.00" y1="986.30" x2="263.00" y2="1774.30" stroke="#c6c6c6" stroke-width="2.4"/>
<line x1="490.70" y1="986.30" x2="490.70" y2="1774.30" stroke="#c6c6c6" stroke-width="2.4"/>
<line x1="718.40" y1="986.30" x2="718.40" y2="1774.30" stroke="#c6c6c6" stroke-width="2.4"/>
<line x1="946.10" y1="986.30" x2="946.10" y2="1774.30" stroke="#c6c6c6" stroke-width="2.4"/>
<rect x="193.5" y="986.3" width="829.00" height="788.00" fill="none" stroke="#231f20" stroke-width="2.4"/>
<line x1="263.00" y1="986.30" x2="263.00" y2="996.80" stroke="#231f20" stroke-width="2.1"/>
<line x1="490.70" y1="986.30" x2="490.70" y2="996.80" stroke="#231f20" stroke-width="2.1"/>
<line x1="718.40" y1="986.30" x2="718.40" y2="996.80" stroke="#231f20" stroke-width="2.1"/>
<line x1="946.10" y1="986.30" x2="946.10" y2="996.80" stroke="#231f20" stroke-width="2.1"/>
<line x1="263.00" y1="1774.30" x2="263.00" y2="1763.80" stroke="#231f20" stroke-width="2.1"/>
<line x1="490.70" y1="1774.30" x2="490.70" y2="1763.80" stroke="#231f20" stroke-width="2.1"/>
<line x1="718.40" y1="1774.30" x2="718.40" y2="1763.80" stroke="#231f20" stroke-width="2.1"/>
<line x1="946.10" y1="1774.30" x2="946.10" y2="1763.80" stroke="#231f20" stroke-width="2.1"/>
<line x1="376.85" y1="1774.30" x2="376.85" y2="1769.80" stroke="#231f20" stroke-width="2.1"/>
<line x1="604.55" y1="1774.30" x2="604.55" y2="1769.80" stroke="#231f20" stroke-width="2.1"/>
<line x1="832.25" y1="1774.30" x2="832.25" y2="1769.80" stroke="#231f20" stroke-width="2.1"/>
<line x1="193.50" y1="1044.70" x2="203.50" y2="1044.70" stroke="#231f20" stroke-width="2.1"/>
<line x1="1022.50" y1="1044.70" x2="1012.50" y2="1044.70" stroke="#231f20" stroke-width="2.1"/>
<line x1="193.50" y1="1153.70" x2="203.50" y2="1153.70" stroke="#231f20" stroke-width="2.1"/>
<line x1="1022.50" y1="1153.70" x2="1012.50" y2="1153.70" stroke="#231f20" stroke-width="2.1"/>
<line x1="193.50" y1="1262.70" x2="203.50" y2="1262.70" stroke="#231f20" stroke-width="2.1"/>
<line x1="1022.50" y1="1262.70" x2="1012.50" y2="1262.70" stroke="#231f20" stroke-width="2.1"/>
<line x1="193.50" y1="1371.70" x2="203.50" y2="1371.70" stroke="#231f20" stroke-width="2.1"/>
<line x1="1022.50" y1="1371.70" x2="1012.50" y2="1371.70" stroke="#231f20" stroke-width="2.1"/>
<line x1="193.50" y1="1480.70" x2="203.50" y2="1480.70" stroke="#231f20" stroke-width="2.1"/>
<line x1="1022.50" y1="1480.70" x2="1012.50" y2="1480.70" stroke="#231f20" stroke-width="2.1"/>
<line x1="193.50" y1="1589.70" x2="203.50" y2="1589.70" stroke="#231f20" stroke-width="2.1"/>
<line x1="1022.50" y1="1589.70" x2="1012.50" y2="1589.70" stroke="#231f20" stroke-width="2.1"/>
<line x1="193.50" y1="1698.70" x2="203.50" y2="1698.70" stroke="#231f20" stroke-width="2.1"/>
<line x1="1022.50" y1="1698.70" x2="1012.50" y2="1698.70" stroke="#231f20" stroke-width="2.1"/>
<rect x="347.70" y="1003.70" width="44.70" height="82.20" fill="none" stroke="#231f20" stroke-width="2.1"/>
<line x1="359.00" y1="1003.70" x2="359.00" y2="1085.90" stroke="#231f20" stroke-width="2.1"/>
<line x1="283.20" y1="1044.70" x2="428.10" y2="1044.70" stroke="#231f20" stroke-width="1.6"/>
<path d="M373.70 1035.30L381.84 1049.40L365.56 1049.40Z" fill="#fff" stroke="#231f20" stroke-width="2.4" stroke-linejoin="miter"/>
<path d="M347.40 1035.30L355.54 1049.40L339.26 1049.40Z" fill="#fff" stroke="#231f20" stroke-width="2.4" stroke-linejoin="miter"/>
<path d="M356.30 1035.30L364.44 1049.40L348.16 1049.40Z" fill="#fff" stroke="#231f20" stroke-width="2.4" stroke-linejoin="miter"/>
<path d="M428.10 1035.30L436.24 1049.40L419.96 1049.40Z" fill="#fff" stroke="#231f20" stroke-width="2.4" stroke-linejoin="miter"/>
<path d="M392.40 1035.30L400.54 1049.40L384.26 1049.40Z" fill="#fff" stroke="#231f20" stroke-width="2.4" stroke-linejoin="miter"/>
<path d="M360.25 1035.30L368.39 1049.40L352.11 1049.40Z" fill="#fff" stroke="#231f20" stroke-width="2.4" stroke-linejoin="miter"/>
<path d="M363.00 1035.30L371.14 1049.40L354.86 1049.40Z" fill="#fff" stroke="#231f20" stroke-width="2.4" stroke-linejoin="miter"/>
<path d="M349.60 1035.30L357.74 1049.40L341.46 1049.40Z" fill="#fff" stroke="#231f20" stroke-width="2.4" stroke-linejoin="miter"/>
<path d="M298.70 1035.30L306.84 1049.40L290.56 1049.40Z" fill="#fff" stroke="#231f20" stroke-width="2.4" stroke-linejoin="miter"/>
<path d="M353.55 1035.30L361.69 1049.40L345.41 1049.40Z" fill="#fff" stroke="#231f20" stroke-width="2.4" stroke-linejoin="miter"/>
<path d="M404.00 1035.30L412.14 1049.40L395.86 1049.40Z" fill="#fff" stroke="#231f20" stroke-width="2.4" stroke-linejoin="miter"/>
<path d="M283.20 1035.30L291.34 1049.40L275.06 1049.40Z" fill="#fff" stroke="#231f20" stroke-width="2.4" stroke-linejoin="miter"/>
<path d="M238.10 1035.30L246.24 1049.40L229.96 1049.40Z" fill="#fff" stroke="#231f20" stroke-width="2.4" stroke-linejoin="miter"/>
<rect x="630.80" y="1112.80" width="27.20" height="82.50" fill="none" stroke="#231f20" stroke-width="2.1"/>
<line x1="642.50" y1="1112.80" x2="642.50" y2="1195.30" stroke="#231f20" stroke-width="2.1"/>
<line x1="592.00" y1="1153.70" x2="671.70" y2="1153.70" stroke="#231f20" stroke-width="1.6"/>
<path d="M638.20 1144.30L646.34 1158.40L630.06 1158.40Z" fill="#fff" stroke="#231f20" stroke-width="2.4" stroke-linejoin="miter"/>
<path d="M620.10 1144.30L628.24 1158.40L611.96 1158.40Z" fill="#fff" stroke="#231f20" stroke-width="2.4" stroke-linejoin="miter"/>
<path d="M631.40 1144.30L639.54 1158.40L623.26 1158.40Z" fill="#fff" stroke="#231f20" stroke-width="2.4" stroke-linejoin="miter"/>
<path d="M627.80 1144.30L635.94 1158.40L619.66 1158.40Z" fill="#fff" stroke="#231f20" stroke-width="2.4" stroke-linejoin="miter"/>
<path d="M661.85 1144.30L669.99 1158.40L653.71 1158.40Z" fill="#fff" stroke="#231f20" stroke-width="2.4" stroke-linejoin="miter"/>
<path d="M664.70 1144.30L672.84 1158.40L656.56 1158.40Z" fill="#fff" stroke="#231f20" stroke-width="2.4" stroke-linejoin="miter"/>
<path d="M616.00 1144.30L624.14 1158.40L607.86 1158.40Z" fill="#fff" stroke="#231f20" stroke-width="2.4" stroke-linejoin="miter"/>
<path d="M650.75 1144.30L658.89 1158.40L642.61 1158.40Z" fill="#fff" stroke="#231f20" stroke-width="2.4" stroke-linejoin="miter"/>
<path d="M592.00 1144.30L600.14 1158.40L583.86 1158.40Z" fill="#fff" stroke="#231f20" stroke-width="2.4" stroke-linejoin="miter"/>
<path d="M605.00 1144.30L613.14 1158.40L596.86 1158.40Z" fill="#fff" stroke="#231f20" stroke-width="2.4" stroke-linejoin="miter"/>
<path d="M653.60 1144.30L661.74 1158.40L645.46 1158.40Z" fill="#fff" stroke="#231f20" stroke-width="2.4" stroke-linejoin="miter"/>
<path d="M644.45 1144.30L652.59 1158.40L636.31 1158.40Z" fill="#fff" stroke="#231f20" stroke-width="2.4" stroke-linejoin="miter"/>
<path d="M671.70 1144.30L679.84 1158.40L663.56 1158.40Z" fill="#fff" stroke="#231f20" stroke-width="2.4" stroke-linejoin="miter"/>
<path d="M641.00 1144.30L649.14 1158.40L632.86 1158.40Z" fill="#fff" stroke="#231f20" stroke-width="2.4" stroke-linejoin="miter"/>
<path d="M657.80 1144.30L665.94 1158.40L649.66 1158.40Z" fill="#fff" stroke="#231f20" stroke-width="2.4" stroke-linejoin="miter"/>
<path d="M646.70 1144.30L654.84 1158.40L638.56 1158.40Z" fill="#fff" stroke="#231f20" stroke-width="2.4" stroke-linejoin="miter"/>
<path d="M623.00 1144.30L631.14 1158.40L614.86 1158.40Z" fill="#fff" stroke="#231f20" stroke-width="2.4" stroke-linejoin="miter"/>
<path d="M668.80 1144.30L676.94 1158.40L660.66 1158.40Z" fill="#fff" stroke="#231f20" stroke-width="2.4" stroke-linejoin="miter"/>
<path d="M634.20 1144.30L642.34 1158.40L626.06 1158.40Z" fill="#fff" stroke="#231f20" stroke-width="2.4" stroke-linejoin="miter"/>
<rect x="645.00" y="1222.00" width="28.90" height="82.20" fill="none" stroke="#231f20" stroke-width="2.1"/>
<line x1="657.80" y1="1222.00" x2="657.80" y2="1304.20" stroke="#231f20" stroke-width="2.1"/>
<line x1="617.50" y1="1262.70" x2="699.40" y2="1262.70" stroke="#231f20" stroke-width="1.6"/>
<path d="M699.40 1253.30L707.54 1267.40L691.26 1267.40Z" fill="#fff" stroke="#231f20" stroke-width="2.4" stroke-linejoin="miter"/>
<path d="M657.70 1253.30L665.84 1267.40L649.56 1267.40Z" fill="#fff" stroke="#231f20" stroke-width="2.4" stroke-linejoin="miter"/>
<path d="M653.60 1253.30L661.74 1267.40L645.46 1267.40Z" fill="#fff" stroke="#231f20" stroke-width="2.4" stroke-linejoin="miter"/>
<path d="M689.65 1253.30L697.79 1267.40L681.51 1267.40Z" fill="#fff" stroke="#231f20" stroke-width="2.4" stroke-linejoin="miter"/>
<path d="M695.30 1253.30L703.44 1267.40L687.16 1267.40Z" fill="#fff" stroke="#231f20" stroke-width="2.4" stroke-linejoin="miter"/>
<path d="M669.45 1253.30L677.59 1267.40L661.31 1267.40Z" fill="#fff" stroke="#231f20" stroke-width="2.4" stroke-linejoin="miter"/>
<path d="M685.60 1253.30L693.74 1267.40L677.46 1267.40Z" fill="#fff" stroke="#231f20" stroke-width="2.4" stroke-linejoin="miter"/>
<path d="M637.00 1253.30L645.14 1267.40L628.86 1267.40Z" fill="#fff" stroke="#231f20" stroke-width="2.4" stroke-linejoin="miter"/>
<path d="M692.50 1253.30L700.64 1267.40L684.36 1267.40Z" fill="#fff" stroke="#231f20" stroke-width="2.4" stroke-linejoin="miter"/>
<path d="M666.00 1253.30L674.14 1267.40L657.86 1267.40Z" fill="#fff" stroke="#231f20" stroke-width="2.4" stroke-linejoin="miter"/>
<path d="M675.80 1253.30L683.94 1267.40L667.66 1267.40Z" fill="#fff" stroke="#231f20" stroke-width="2.4" stroke-linejoin="miter"/>
<path d="M647.95 1253.30L656.09 1267.40L639.81 1267.40Z" fill="#fff" stroke="#231f20" stroke-width="2.4" stroke-linejoin="miter"/>
<path d="M641.05 1253.30L649.19 1267.40L632.91 1267.40Z" fill="#fff" stroke="#231f20" stroke-width="2.4" stroke-linejoin="miter"/>
<path d="M581.40 1253.30L589.54 1267.40L573.26 1267.40Z" fill="#fff" stroke="#231f20" stroke-width="2.4" stroke-linejoin="miter"/>
<path d="M617.50 1253.30L625.64 1267.40L609.36 1267.40Z" fill="#fff" stroke="#231f20" stroke-width="2.4" stroke-linejoin="miter"/>
<path d="M627.20 1253.30L635.34 1267.40L619.06 1267.40Z" fill="#fff" stroke="#231f20" stroke-width="2.4" stroke-linejoin="miter"/>
<path d="M632.80 1253.30L640.94 1267.40L624.66 1267.40Z" fill="#fff" stroke="#231f20" stroke-width="2.4" stroke-linejoin="miter"/>
<path d="M671.70 1253.30L679.84 1267.40L663.56 1267.40Z" fill="#fff" stroke="#231f20" stroke-width="2.4" stroke-linejoin="miter"/>
<path d="M660.60 1253.30L668.74 1267.40L652.46 1267.40Z" fill="#fff" stroke="#231f20" stroke-width="2.4" stroke-linejoin="miter"/>
<path d="M630.60 1253.30L638.74 1267.40L622.46 1267.40Z" fill="#fff" stroke="#231f20" stroke-width="2.4" stroke-linejoin="miter"/>
<path d="M650.80 1253.30L658.94 1267.40L642.66 1267.40Z" fill="#fff" stroke="#231f20" stroke-width="2.4" stroke-linejoin="miter"/>
<path d="M643.90 1253.30L652.04 1267.40L635.76 1267.40Z" fill="#fff" stroke="#231f20" stroke-width="2.4" stroke-linejoin="miter"/>
<rect x="670.60" y="1331.10" width="20.50" height="81.70" fill="none" stroke="#231f20" stroke-width="2.1"/>
<line x1="683.30" y1="1331.10" x2="683.30" y2="1412.80" stroke="#231f20" stroke-width="2.1"/>
<line x1="659.20" y1="1371.70" x2="713.30" y2="1371.70" stroke="#231f20" stroke-width="1.6"/>
<path d="M664.70 1362.30L672.84 1376.40L656.56 1376.40Z" fill="#fff" stroke="#231f20" stroke-width="2.4" stroke-linejoin="miter"/>
<path d="M668.80 1362.30L676.94 1376.40L660.66 1376.40Z" fill="#fff" stroke="#231f20" stroke-width="2.4" stroke-linejoin="miter"/>
<path d="M699.40 1362.30L707.54 1376.40L691.26 1376.40Z" fill="#fff" stroke="#231f20" stroke-width="2.4" stroke-linejoin="miter"/>
<path d="M692.50 1362.30L700.64 1376.40L684.36 1376.40Z" fill="#fff" stroke="#231f20" stroke-width="2.4" stroke-linejoin="miter"/>
<path d="M713.30 1362.30L721.44 1376.40L705.16 1376.40Z" fill="#fff" stroke="#231f20" stroke-width="2.4" stroke-linejoin="miter"/>
<path d="M659.20 1362.30L667.34 1376.40L651.06 1376.40Z" fill="#fff" stroke="#231f20" stroke-width="2.4" stroke-linejoin="miter"/>
<path d="M678.60 1362.30L686.74 1376.40L670.46 1376.40Z" fill="#fff" stroke="#231f20" stroke-width="2.4" stroke-linejoin="miter"/>
<path d="M682.70 1362.30L690.84 1376.40L674.56 1376.40Z" fill="#fff" stroke="#231f20" stroke-width="2.4" stroke-linejoin="miter"/>
<path d="M595.30 1362.30L603.44 1376.40L587.16 1376.40Z" fill="#fff" stroke="#231f20" stroke-width="2.4" stroke-linejoin="miter"/>
<path d="M685.60 1362.30L693.74 1376.40L677.46 1376.40Z" fill="#fff" stroke="#231f20" stroke-width="2.4" stroke-linejoin="miter"/>
<path d="M675.75 1362.30L683.89 1376.40L667.61 1376.40Z" fill="#fff" stroke="#231f20" stroke-width="2.4" stroke-linejoin="miter"/>
<path d="M696.55 1362.30L704.69 1376.40L688.41 1376.40Z" fill="#fff" stroke="#231f20" stroke-width="2.4" stroke-linejoin="miter"/>
<path d="M671.70 1362.30L679.84 1376.40L663.56 1376.40Z" fill="#fff" stroke="#231f20" stroke-width="2.4" stroke-linejoin="miter"/>
<path d="M688.30 1362.30L696.44 1376.40L680.16 1376.40Z" fill="#fff" stroke="#231f20" stroke-width="2.4" stroke-linejoin="miter"/>
<rect x="687.00" y="1440.30" width="23.00" height="81.40" fill="none" stroke="#231f20" stroke-width="2.1"/>
<line x1="700.00" y1="1440.30" x2="700.00" y2="1521.70" stroke="#231f20" stroke-width="2.1"/>
<line x1="654.20" y1="1480.70" x2="730.00" y2="1480.70" stroke="#231f20" stroke-width="1.6"/>
<path d="M718.90 1471.30L727.04 1485.40L710.76 1485.40Z" fill="#fff" stroke="#231f20" stroke-width="2.4" stroke-linejoin="miter"/>
<path d="M654.20 1471.30L662.34 1485.40L646.06 1485.40Z" fill="#fff" stroke="#231f20" stroke-width="2.4" stroke-linejoin="miter"/>
<path d="M699.40 1471.30L707.54 1485.40L691.26 1485.40Z" fill="#fff" stroke="#231f20" stroke-width="2.4" stroke-linejoin="miter"/>
<path d="M680.00 1471.30L688.14 1485.40L671.86 1485.40Z" fill="#fff" stroke="#231f20" stroke-width="2.4" stroke-linejoin="miter"/>
<path d="M691.70 1471.30L699.84 1485.40L683.56 1485.40Z" fill="#fff" stroke="#231f20" stroke-width="2.4" stroke-linejoin="miter"/>
<path d="M710.60 1471.30L718.74 1485.40L702.46 1485.40Z" fill="#fff" stroke="#231f20" stroke-width="2.4" stroke-linejoin="miter"/>
<path d="M707.00 1471.30L715.14 1485.40L698.86 1485.40Z" fill="#fff" stroke="#231f20" stroke-width="2.4" stroke-linejoin="miter"/>
<path d="M687.00 1471.30L695.14 1485.40L678.86 1485.40Z" fill="#fff" stroke="#231f20" stroke-width="2.4" stroke-linejoin="miter"/>
<path d="M696.15 1471.30L704.29 1485.40L688.01 1485.40Z" fill="#fff" stroke="#231f20" stroke-width="2.4" stroke-linejoin="miter"/>
<path d="M702.20 1471.30L710.34 1485.40L694.06 1485.40Z" fill="#fff" stroke="#231f20" stroke-width="2.4" stroke-linejoin="miter"/>
<path d="M730.00 1471.30L738.14 1485.40L721.86 1485.40Z" fill="#fff" stroke="#231f20" stroke-width="2.4" stroke-linejoin="miter"/>
<path d="M724.40 1471.30L732.54 1485.40L716.26 1485.40Z" fill="#fff" stroke="#231f20" stroke-width="2.4" stroke-linejoin="miter"/>
<path d="M623.90 1471.30L632.04 1485.40L615.76 1485.40Z" fill="#fff" stroke="#231f20" stroke-width="2.4" stroke-linejoin="miter"/>
<path d="M684.10 1471.30L692.24 1485.40L675.96 1485.40Z" fill="#fff" stroke="#231f20" stroke-width="2.4" stroke-linejoin="miter"/>
<path d="M715.35 1471.30L723.49 1485.40L707.21 1485.40Z" fill="#fff" stroke="#231f20" stroke-width="2.4" stroke-linejoin="miter"/>
<path d="M727.20 1471.30L735.34 1485.40L719.06 1485.40Z" fill="#fff" stroke="#231f20" stroke-width="2.4" stroke-linejoin="miter"/>
<path d="M668.90 1471.30L677.04 1485.40L660.76 1485.40Z" fill="#fff" stroke="#231f20" stroke-width="2.4" stroke-linejoin="miter"/>
<line x1="786.30" y1="1549.50" x2="786.30" y2="1630.50" stroke="#231f20" stroke-width="2.7"/>
<path d="M786.30 1580.30L794.44 1594.40L778.16 1594.40Z" fill="#fff" stroke="#231f20" stroke-width="2.4" stroke-linejoin="miter"/>
<rect x="866.90" y="1657.80" width="49.00" height="81.90" fill="none" stroke="#231f20" stroke-width="2.1"/>
<line x1="886.80" y1="1657.80" x2="886.80" y2="1739.70" stroke="#231f20" stroke-width="2.1"/>
<line x1="817.50" y1="1698.70" x2="986.70" y2="1698.70" stroke="#231f20" stroke-width="1.6"/>
<path d="M942.80 1689.30L950.94 1703.40L934.66 1703.40Z" fill="#fff" stroke="#231f20" stroke-width="2.4" stroke-linejoin="miter"/>
<path d="M866.10 1689.30L874.24 1703.40L857.96 1703.40Z" fill="#fff" stroke="#231f20" stroke-width="2.4" stroke-linejoin="miter"/>
<path d="M898.10 1689.30L906.24 1703.40L889.96 1703.40Z" fill="#fff" stroke="#231f20" stroke-width="2.4" stroke-linejoin="miter"/>
<path d="M986.70 1689.30L994.84 1703.40L978.56 1703.40Z" fill="#fff" stroke="#231f20" stroke-width="2.4" stroke-linejoin="miter"/>
<path d="M958.90 1689.30L967.04 1703.40L950.76 1703.40Z" fill="#fff" stroke="#231f20" stroke-width="2.4" stroke-linejoin="miter"/>
<path d="M848.40 1689.30L856.54 1703.40L840.26 1703.40Z" fill="#fff" stroke="#231f20" stroke-width="2.4" stroke-linejoin="miter"/>
<path d="M856.80 1689.30L864.94 1703.40L848.66 1703.40Z" fill="#fff" stroke="#231f20" stroke-width="2.4" stroke-linejoin="miter"/>
<path d="M910.00 1689.30L918.14 1703.40L901.86 1703.40Z" fill="#fff" stroke="#231f20" stroke-width="2.4" stroke-linejoin="miter"/>
<path d="M817.50 1689.30L825.64 1703.40L809.36 1703.40Z" fill="#fff" stroke="#231f20" stroke-width="2.4" stroke-linejoin="miter"/>
<path d="M883.00 1689.30L891.14 1703.40L874.86 1703.40Z" fill="#fff" stroke="#231f20" stroke-width="2.4" stroke-linejoin="miter"/>
<path d="M861.90 1689.30L870.04 1703.40L853.76 1703.40Z" fill="#fff" stroke="#231f20" stroke-width="2.4" stroke-linejoin="miter"/>
<path d="M885.50 1689.30L893.64 1703.40L877.36 1703.40Z" fill="#fff" stroke="#231f20" stroke-width="2.4" stroke-linejoin="miter"/>
<path d="M915.20 1689.30L923.34 1703.40L907.06 1703.40Z" fill="#fff" stroke="#231f20" stroke-width="2.4" stroke-linejoin="miter"/>
<path d="M919.20 1689.30L927.34 1703.40L911.06 1703.40Z" fill="#fff" stroke="#231f20" stroke-width="2.4" stroke-linejoin="miter"/>
<path d="M907.20 1689.30L915.34 1703.40L899.06 1703.40Z" fill="#fff" stroke="#231f20" stroke-width="2.4" stroke-linejoin="miter"/>
<path d="M878.80 1689.30L886.94 1703.40L870.66 1703.40Z" fill="#fff" stroke="#231f20" stroke-width="2.4" stroke-linejoin="miter"/>
<path d="M924.30 1689.30L932.44 1703.40L916.16 1703.40Z" fill="#fff" stroke="#231f20" stroke-width="2.4" stroke-linejoin="miter"/>
<path d="M937.80 1689.30L945.94 1703.40L929.66 1703.40Z" fill="#fff" stroke="#231f20" stroke-width="2.4" stroke-linejoin="miter"/>
<path d="M853.20 1689.30L861.34 1703.40L845.06 1703.40Z" fill="#fff" stroke="#231f20" stroke-width="2.4" stroke-linejoin="miter"/>
<path d="M889.45 1689.30L897.59 1703.40L881.31 1703.40Z" fill="#fff" stroke="#231f20" stroke-width="2.4" stroke-linejoin="miter"/>
<path d="M927.70 1689.30L935.84 1703.40L919.56 1703.40Z" fill="#fff" stroke="#231f20" stroke-width="2.4" stroke-linejoin="miter"/>
<path d="M895.75 1689.30L903.89 1703.40L887.61 1703.40Z" fill="#fff" stroke="#231f20" stroke-width="2.4" stroke-linejoin="miter"/>
<path d="M872.80 1689.30L880.94 1703.40L864.66 1703.40Z" fill="#fff" stroke="#231f20" stroke-width="2.4" stroke-linejoin="miter"/>
<path d="M840.00 1689.30L848.14 1703.40L831.86 1703.40Z" fill="#fff" stroke="#231f20" stroke-width="2.4" stroke-linejoin="miter"/>
<path d="M892.20 1689.30L900.34 1703.40L884.06 1703.40Z" fill="#fff" stroke="#231f20" stroke-width="2.4" stroke-linejoin="miter"/>
<path d="M835.95 1689.30L844.09 1703.40L827.81 1703.40Z" fill="#fff" stroke="#231f20" stroke-width="2.4" stroke-linejoin="miter"/>
<path d="M830.70 1689.30L838.84 1703.40L822.56 1703.40Z" fill="#fff" stroke="#231f20" stroke-width="2.4" stroke-linejoin="miter"/>
<path d="M903.20 1689.30L911.34 1703.40L895.06 1703.40Z" fill="#fff" stroke="#231f20" stroke-width="2.4" stroke-linejoin="miter"/>
<path d="M876.40 1689.30L884.54 1703.40L868.26 1703.40Z" fill="#fff" stroke="#231f20" stroke-width="2.4" stroke-linejoin="miter"/>
<path d="M844.80 1689.30L852.94 1703.40L836.66 1703.40Z" fill="#fff" stroke="#231f20" stroke-width="2.4" stroke-linejoin="miter"/>
<path d="M870.05 1689.30L878.19 1703.40L861.91 1703.40Z" fill="#fff" stroke="#231f20" stroke-width="2.4" stroke-linejoin="miter"/>
<text transform="translate(185.70,1053.80) scale(0.85,1)" font-size="24" text-anchor="end" fill="#231f20" stroke="#231f20" stroke-width="0.75" stroke-linejoin="round"><tspan font-style="italic">Pongo</tspan> spp.</text>
<text transform="translate(184.60,1161.40) scale(0.85,1)" font-size="24" text-anchor="end" fill="#231f20" stroke="#231f20" stroke-width="0.75" stroke-linejoin="round"><tspan font-style="italic">G. beringei</tspan></text>
<text transform="translate(184.60,1271.30) scale(0.85,1)" font-size="24" text-anchor="end" fill="#231f20" stroke="#231f20" stroke-width="0.75" stroke-linejoin="round"><tspan font-style="italic">G. gorilla</tspan></text>
<text transform="translate(184.60,1380.00) scale(0.85,1)" font-size="24" text-anchor="end" fill="#231f20" stroke="#231f20" stroke-width="0.75" stroke-linejoin="round"><tspan font-style="italic">P. paniscus</tspan></text>
<text transform="translate(184.60,1489.00) scale(0.85,1)" font-size="24" text-anchor="end" fill="#231f20" stroke="#231f20" stroke-width="0.75" stroke-linejoin="round"><tspan font-style="italic">P. troglodytes</tspan></text>
<text transform="translate(184.60,1598.30) scale(0.85,1)" font-size="24" text-anchor="end" fill="#231f20" stroke="#231f20" stroke-width="0.75" stroke-linejoin="round">KNM−ER 101000</text>
<text transform="translate(184.60,1706.40) scale(0.85,1)" font-size="24" text-anchor="end" fill="#231f20" stroke="#231f20" stroke-width="0.75" stroke-linejoin="round"><tspan font-style="italic">H. sapiens</tspan></text>
<text transform="translate(261.70,1804.40) scale(0.85,1)" font-size="24" text-anchor="middle" fill="#231f20" stroke="#231f20" stroke-width="0.75" stroke-linejoin="round">−1.0</text>
<text transform="translate(495.00,1804.40) scale(0.85,1)" font-size="24" text-anchor="middle" fill="#231f20" stroke="#231f20" stroke-width="0.75" stroke-linejoin="round">−0.50</text>
<text transform="translate(730.00,1804.40) scale(0.85,1)" font-size="24" text-anchor="middle" fill="#231f20" stroke="#231f20" stroke-width="0.75" stroke-linejoin="round">0.0</text>
<text transform="translate(946.50,1804.40) scale(0.85,1)" font-size="24" text-anchor="middle" fill="#231f20" stroke="#231f20" stroke-width="0.75" stroke-linejoin="round">0.5</text>
<text transform="translate(607.90,1840.00) scale(0.858,1)" font-size="24" text-anchor="middle" fill="#231f20" stroke="#231f20" stroke-width="0.75" stroke-linejoin="round">Phalangeal length ratio</text>
<text transform="translate(610.80,1870.10) scale(0.85,1)" font-size="24" text-anchor="middle" fill="#231f20" stroke="#231f20" stroke-width="0.75" stroke-linejoin="round">log(PP1/PP5)</text>
<line x1="1516.90" y1="997.30" x2="1516.90" y2="1789.50" stroke="#c6c6c6" stroke-width="2.4"/>
<line x1="1753.90" y1="997.30" x2="1753.90" y2="1789.50" stroke="#c6c6c6" stroke-width="2.4"/>
<line x1="1990.90" y1="997.30" x2="1990.90" y2="1789.50" stroke="#c6c6c6" stroke-width="2.4"/>
<rect x="1279.7" y="997.3" width="787.30" height="792.20" fill="none" stroke="#231f20" stroke-width="2.2"/>
<line x1="1516.90" y1="997.30" x2="1516.90" y2="1007.80" stroke="#231f20" stroke-width="2.0"/>
<line x1="1753.90" y1="997.30" x2="1753.90" y2="1007.80" stroke="#231f20" stroke-width="2.0"/>
<line x1="1990.90" y1="997.30" x2="1990.90" y2="1007.80" stroke="#231f20" stroke-width="2.0"/>
<line x1="1516.90" y1="1789.50" x2="1516.90" y2="1779.50" stroke="#231f20" stroke-width="2.0"/>
<line x1="1753.90" y1="1789.50" x2="1753.90" y2="1779.50" stroke="#231f20" stroke-width="2.0"/>
<line x1="1990.90" y1="1789.50" x2="1990.90" y2="1779.50" stroke="#231f20" stroke-width="2.0"/>
<line x1="1398.40" y1="1789.50" x2="1398.40" y2="1784.00" stroke="#231f20" stroke-width="2.0"/>
<line x1="1635.40" y1="1789.50" x2="1635.40" y2="1784.00" stroke="#231f20" stroke-width="2.0"/>
<line x1="1872.40" y1="1789.50" x2="1872.40" y2="1784.00" stroke="#231f20" stroke-width="2.0"/>
<line x1="1279.70" y1="1044.50" x2="1287.20" y2="1044.50" stroke="#231f20" stroke-width="2.0"/>
<line x1="2067.00" y1="1044.50" x2="2059.50" y2="1044.50" stroke="#231f20" stroke-width="2.0"/>
<line x1="1279.70" y1="1108.70" x2="1287.20" y2="1108.70" stroke="#231f20" stroke-width="2.0"/>
<line x1="2067.00" y1="1108.70" x2="2059.50" y2="1108.70" stroke="#231f20" stroke-width="2.0"/>
<line x1="1279.70" y1="1172.90" x2="1287.20" y2="1172.90" stroke="#231f20" stroke-width="2.0"/>
<line x1="2067.00" y1="1172.90" x2="2059.50" y2="1172.90" stroke="#231f20" stroke-width="2.0"/>
<line x1="1279.70" y1="1237.10" x2="1287.20" y2="1237.10" stroke="#231f20" stroke-width="2.0"/>
<line x1="2067.00" y1="1237.10" x2="2059.50" y2="1237.10" stroke="#231f20" stroke-width="2.0"/>
<line x1="1279.70" y1="1301.30" x2="1287.20" y2="1301.30" stroke="#231f20" stroke-width="2.0"/>
<line x1="2067.00" y1="1301.30" x2="2059.50" y2="1301.30" stroke="#231f20" stroke-width="2.0"/>
<line x1="1279.70" y1="1365.50" x2="1287.20" y2="1365.50" stroke="#231f20" stroke-width="2.0"/>
<line x1="2067.00" y1="1365.50" x2="2059.50" y2="1365.50" stroke="#231f20" stroke-width="2.0"/>
<line x1="1279.70" y1="1429.70" x2="1287.20" y2="1429.70" stroke="#231f20" stroke-width="2.0"/>
<line x1="2067.00" y1="1429.70" x2="2059.50" y2="1429.70" stroke="#231f20" stroke-width="2.0"/>
<line x1="1279.70" y1="1493.90" x2="1287.20" y2="1493.90" stroke="#231f20" stroke-width="2.0"/>
<line x1="2067.00" y1="1493.90" x2="2059.50" y2="1493.90" stroke="#231f20" stroke-width="2.0"/>
<line x1="1279.70" y1="1558.10" x2="1287.20" y2="1558.10" stroke="#231f20" stroke-width="2.0"/>
<line x1="2067.00" y1="1558.10" x2="2059.50" y2="1558.10" stroke="#231f20" stroke-width="2.0"/>
<line x1="1279.70" y1="1622.30" x2="1287.20" y2="1622.30" stroke="#231f20" stroke-width="2.0"/>
<line x1="2067.00" y1="1622.30" x2="2059.50" y2="1622.30" stroke="#231f20" stroke-width="2.0"/>
<line x1="1279.70" y1="1686.50" x2="1287.20" y2="1686.50" stroke="#231f20" stroke-width="2.0"/>
<line x1="2067.00" y1="1686.50" x2="2059.50" y2="1686.50" stroke="#231f20" stroke-width="2.0"/>
<line x1="1279.70" y1="1750.70" x2="1287.20" y2="1750.70" stroke="#231f20" stroke-width="2.0"/>
<line x1="2067.00" y1="1750.70" x2="2059.50" y2="1750.70" stroke="#231f20" stroke-width="2.0"/>
<rect x="1909.70" y="1020.80" width="75.00" height="48.10" fill="none" stroke="#231f20" stroke-width="2.1"/>
<line x1="1952.20" y1="1020.80" x2="1952.20" y2="1068.90" stroke="#231f20" stroke-width="2.1"/>
<line x1="1844.40" y1="1044.50" x2="2034.70" y2="1044.50" stroke="#231f20" stroke-width="1.6"/>
<path d="M1934.70 1035.10L1942.84 1049.20L1926.56 1049.20Z" fill="#fff" stroke="#231f20" stroke-width="2.4" stroke-linejoin="miter"/>
<path d="M1931.90 1035.10L1940.04 1049.20L1923.76 1049.20Z" fill="#fff" stroke="#231f20" stroke-width="2.4" stroke-linejoin="miter"/>
<path d="M2026.40 1035.10L2034.54 1049.20L2018.26 1049.20Z" fill="#fff" stroke="#231f20" stroke-width="2.4" stroke-linejoin="miter"/>
<path d="M1952.80 1035.10L1960.94 1049.20L1944.66 1049.20Z" fill="#fff" stroke="#231f20" stroke-width="2.4" stroke-linejoin="miter"/>
<path d="M2034.70 1035.10L2042.84 1049.20L2026.56 1049.20Z" fill="#fff" stroke="#231f20" stroke-width="2.4" stroke-linejoin="miter"/>
<path d="M1994.40 1035.10L2002.54 1049.20L1986.26 1049.20Z" fill="#fff" stroke="#231f20" stroke-width="2.4" stroke-linejoin="miter"/>
<path d="M1988.90 1035.10L1997.04 1049.20L1980.76 1049.20Z" fill="#fff" stroke="#231f20" stroke-width="2.4" stroke-linejoin="miter"/>
<path d="M1844.40 1035.10L1852.54 1049.20L1836.26 1049.20Z" fill="#fff" stroke="#231f20" stroke-width="2.4" stroke-linejoin="miter"/>
<path d="M1894.40 1035.10L1902.54 1049.20L1886.26 1049.20Z" fill="#fff" stroke="#231f20" stroke-width="2.4" stroke-linejoin="miter"/>
<path d="M1963.90 1035.10L1972.04 1049.20L1955.76 1049.20Z" fill="#fff" stroke="#231f20" stroke-width="2.4" stroke-linejoin="miter"/>
<path d="M1991.70 1035.10L1999.84 1049.20L1983.56 1049.20Z" fill="#fff" stroke="#231f20" stroke-width="2.4" stroke-linejoin="miter"/>
<path d="M1904.20 1035.10L1912.34 1049.20L1896.06 1049.20Z" fill="#fff" stroke="#231f20" stroke-width="2.4" stroke-linejoin="miter"/>
<path d="M1969.40 1035.10L1977.54 1049.20L1961.26 1049.20Z" fill="#fff" stroke="#231f20" stroke-width="2.4" stroke-linejoin="miter"/>
<path d="M1986.70 1035.10L1994.84 1049.20L1978.56 1049.20Z" fill="#fff" stroke="#231f20" stroke-width="2.4" stroke-linejoin="miter"/>
<path d="M2006.90 1035.10L2015.04 1049.20L1998.76 1049.20Z" fill="#fff" stroke="#231f20" stroke-width="2.4" stroke-linejoin="miter"/>
<path d="M1915.30 1035.10L1923.44 1049.20L1907.16 1049.20Z" fill="#fff" stroke="#231f20" stroke-width="2.4" stroke-linejoin="miter"/>
<path d="M1983.30 1035.10L1991.44 1049.20L1975.16 1049.20Z" fill="#fff" stroke="#231f20" stroke-width="2.4" stroke-linejoin="miter"/>
<path d="M2031.15 1035.10L2039.29 1049.20L2023.01 1049.20Z" fill="#fff" stroke="#231f20" stroke-width="2.4" stroke-linejoin="miter"/>
<path d="M1890.85 1035.10L1898.99 1049.20L1882.71 1049.20Z" fill="#fff" stroke="#231f20" stroke-width="2.4" stroke-linejoin="miter"/>
<path d="M1886.10 1035.10L1894.24 1049.20L1877.96 1049.20Z" fill="#fff" stroke="#231f20" stroke-width="2.4" stroke-linejoin="miter"/>
<rect x="1647.80" y="1084.70" width="43.00" height="48.10" fill="none" stroke="#231f20" stroke-width="2.1"/>
<line x1="1661.90" y1="1084.70" x2="1661.90" y2="1132.80" stroke="#231f20" stroke-width="2.1"/>
<line x1="1601.40" y1="1108.70" x2="1722.20" y2="1108.70" stroke="#231f20" stroke-width="1.6"/>
<path d="M1676.40 1099.30L1684.54 1113.40L1668.26 1113.40Z" fill="#fff" stroke="#231f20" stroke-width="2.4" stroke-linejoin="miter"/>
<path d="M1637.50 1099.30L1645.64 1113.40L1629.36 1113.40Z" fill="#fff" stroke="#231f20" stroke-width="2.4" stroke-linejoin="miter"/>
<path d="M1655.60 1099.30L1663.74 1113.40L1647.46 1113.40Z" fill="#fff" stroke="#231f20" stroke-width="2.4" stroke-linejoin="miter"/>
<path d="M1653.40 1099.30L1661.54 1113.40L1645.26 1113.40Z" fill="#fff" stroke="#231f20" stroke-width="2.4" stroke-linejoin="miter"/>
<path d="M1719.40 1099.30L1727.54 1113.40L1711.26 1113.40Z" fill="#fff" stroke="#231f20" stroke-width="2.4" stroke-linejoin="miter"/>
<path d="M1722.20 1099.30L1730.34 1113.40L1714.06 1113.40Z" fill="#fff" stroke="#231f20" stroke-width="2.4" stroke-linejoin="miter"/>
<path d="M1616.70 1099.30L1624.84 1113.40L1608.56 1113.40Z" fill="#fff" stroke="#231f20" stroke-width="2.4" stroke-linejoin="miter"/>
<path d="M1688.90 1099.30L1697.04 1113.40L1680.76 1113.40Z" fill="#fff" stroke="#231f20" stroke-width="2.4" stroke-linejoin="miter"/>
<path d="M1601.40 1099.30L1609.54 1113.40L1593.26 1113.40Z" fill="#fff" stroke="#231f20" stroke-width="2.4" stroke-linejoin="miter"/>
<path d="M1605.60 1099.30L1613.74 1113.40L1597.46 1113.40Z" fill="#fff" stroke="#231f20" stroke-width="2.4" stroke-linejoin="miter"/>
<path d="M1702.80 1099.30L1710.94 1113.40L1694.66 1113.40Z" fill="#fff" stroke="#231f20" stroke-width="2.4" stroke-linejoin="miter"/>
<path d="M1683.30 1099.30L1691.44 1113.40L1675.16 1113.40Z" fill="#fff" stroke="#231f20" stroke-width="2.4" stroke-linejoin="miter"/>
<path d="M1755.00 1099.30L1763.14 1113.40L1746.86 1113.40Z" fill="#fff" stroke="#231f20" stroke-width="2.4" stroke-linejoin="miter"/>
<path d="M1680.45 1099.30L1688.59 1113.40L1672.31 1113.40Z" fill="#fff" stroke="#231f20" stroke-width="2.4" stroke-linejoin="miter"/>
<path d="M1705.60 1099.30L1713.74 1113.40L1697.46 1113.40Z" fill="#fff" stroke="#231f20" stroke-width="2.4" stroke-linejoin="miter"/>
<path d="M1686.70 1099.30L1694.84 1113.40L1678.56 1113.40Z" fill="#fff" stroke="#231f20" stroke-width="2.4" stroke-linejoin="miter"/>
<path d="M1650.00 1099.30L1658.14 1113.40L1641.86 1113.40Z" fill="#fff" stroke="#231f20" stroke-width="2.4" stroke-linejoin="miter"/>
<path d="M1665.30 1099.30L1673.44 1113.40L1657.16 1113.40Z" fill="#fff" stroke="#231f20" stroke-width="2.4" stroke-linejoin="miter"/>
<rect x="1641.10" y="1148.60" width="42.80" height="48.30" fill="none" stroke="#231f20" stroke-width="2.1"/>
<line x1="1662.50" y1="1148.60" x2="1662.50" y2="1196.90" stroke="#231f20" stroke-width="2.1"/>
<line x1="1606.40" y1="1172.90" x2="1747.20" y2="1172.90" stroke="#231f20" stroke-width="1.6"/>
<path d="M1747.20 1163.50L1755.34 1177.60L1739.06 1177.60Z" fill="#fff" stroke="#231f20" stroke-width="2.4" stroke-linejoin="miter"/>
<path d="M1661.70 1163.50L1669.84 1177.60L1653.56 1177.60Z" fill="#fff" stroke="#231f20" stroke-width="2.4" stroke-linejoin="miter"/>
<path d="M1737.40 1163.50L1745.54 1177.60L1729.26 1177.60Z" fill="#fff" stroke="#231f20" stroke-width="2.4" stroke-linejoin="miter"/>
<path d="M1680.60 1163.50L1688.74 1177.60L1672.46 1177.60Z" fill="#fff" stroke="#231f20" stroke-width="2.4" stroke-linejoin="miter"/>
<path d="M1663.90 1163.50L1672.04 1177.60L1655.76 1177.60Z" fill="#fff" stroke="#231f20" stroke-width="2.4" stroke-linejoin="miter"/>
<path d="M1622.20 1163.50L1630.34 1177.60L1614.06 1177.60Z" fill="#fff" stroke="#231f20" stroke-width="2.4" stroke-linejoin="miter"/>
<path d="M1688.90 1163.50L1697.04 1177.60L1680.76 1177.60Z" fill="#fff" stroke="#231f20" stroke-width="2.4" stroke-linejoin="miter"/>
<path d="M1638.10 1163.50L1646.24 1177.60L1629.96 1177.60Z" fill="#fff" stroke="#231f20" stroke-width="2.4" stroke-linejoin="miter"/>
<path d="M1744.35 1163.50L1752.49 1177.60L1736.21 1177.60Z" fill="#fff" stroke="#231f20" stroke-width="2.4" stroke-linejoin="miter"/>
<path d="M1678.40 1163.50L1686.54 1177.60L1670.26 1177.60Z" fill="#fff" stroke="#231f20" stroke-width="2.4" stroke-linejoin="miter"/>
<path d="M1740.30 1163.50L1748.44 1177.60L1732.16 1177.60Z" fill="#fff" stroke="#231f20" stroke-width="2.4" stroke-linejoin="miter"/>
<path d="M1733.30 1163.50L1741.44 1177.60L1725.16 1177.60Z" fill="#fff" stroke="#231f20" stroke-width="2.4" stroke-linejoin="miter"/>
<path d="M1697.20 1163.50L1705.34 1177.60L1689.06 1177.60Z" fill="#fff" stroke="#231f20" stroke-width="2.4" stroke-linejoin="miter"/>
<path d="M1647.20 1163.50L1655.34 1177.60L1639.06 1177.60Z" fill="#fff" stroke="#231f20" stroke-width="2.4" stroke-linejoin="miter"/>
<path d="M1640.30 1163.50L1648.44 1177.60L1632.16 1177.60Z" fill="#fff" stroke="#231f20" stroke-width="2.4" stroke-linejoin="miter"/>
<path d="M1606.40 1163.50L1614.54 1177.60L1598.26 1177.60Z" fill="#fff" stroke="#231f20" stroke-width="2.4" stroke-linejoin="miter"/>
<path d="M1694.40 1163.50L1702.54 1177.60L1686.26 1177.60Z" fill="#fff" stroke="#231f20" stroke-width="2.4" stroke-linejoin="miter"/>
<path d="M1626.40 1163.50L1634.54 1177.60L1618.26 1177.60Z" fill="#fff" stroke="#231f20" stroke-width="2.4" stroke-linejoin="miter"/>
<path d="M1634.70 1163.50L1642.84 1177.60L1626.56 1177.60Z" fill="#fff" stroke="#231f20" stroke-width="2.4" stroke-linejoin="miter"/>
<path d="M1685.35 1163.50L1693.49 1177.60L1677.21 1177.60Z" fill="#fff" stroke="#231f20" stroke-width="2.4" stroke-linejoin="miter"/>
<path d="M1675.00 1163.50L1683.14 1177.60L1666.86 1177.60Z" fill="#fff" stroke="#231f20" stroke-width="2.4" stroke-linejoin="miter"/>
<path d="M1631.15 1163.50L1639.29 1177.60L1623.01 1177.60Z" fill="#fff" stroke="#231f20" stroke-width="2.4" stroke-linejoin="miter"/>
<path d="M1658.30 1163.50L1666.44 1177.60L1650.16 1177.60Z" fill="#fff" stroke="#231f20" stroke-width="2.4" stroke-linejoin="miter"/>
<path d="M1644.35 1163.50L1652.49 1177.60L1636.21 1177.60Z" fill="#fff" stroke="#231f20" stroke-width="2.4" stroke-linejoin="miter"/>
<rect x="1743.30" y="1212.80" width="46.40" height="48.60" fill="none" stroke="#231f20" stroke-width="2.1"/>
<line x1="1763.90" y1="1212.80" x2="1763.90" y2="1261.40" stroke="#231f20" stroke-width="2.1"/>
<line x1="1711.70" y1="1237.10" x2="1813.90" y2="1237.10" stroke="#231f20" stroke-width="1.6"/>
<path d="M1798.60 1227.70L1806.74 1241.80L1790.46 1241.80Z" fill="#fff" stroke="#231f20" stroke-width="2.4" stroke-linejoin="miter"/>
<path d="M1733.25 1227.70L1741.39 1241.80L1725.11 1241.80Z" fill="#fff" stroke="#231f20" stroke-width="2.4" stroke-linejoin="miter"/>
<path d="M1740.85 1227.70L1748.99 1241.80L1732.71 1241.80Z" fill="#fff" stroke="#231f20" stroke-width="2.4" stroke-linejoin="miter"/>
<path d="M1747.20 1227.70L1755.34 1241.80L1739.06 1241.80Z" fill="#fff" stroke="#231f20" stroke-width="2.4" stroke-linejoin="miter"/>
<path d="M1729.20 1227.70L1737.34 1241.80L1721.06 1241.80Z" fill="#fff" stroke="#231f20" stroke-width="2.4" stroke-linejoin="miter"/>
<path d="M1773.60 1227.70L1781.74 1241.80L1765.46 1241.80Z" fill="#fff" stroke="#231f20" stroke-width="2.4" stroke-linejoin="miter"/>
<path d="M1744.40 1227.70L1752.54 1241.80L1736.26 1241.80Z" fill="#fff" stroke="#231f20" stroke-width="2.4" stroke-linejoin="miter"/>
<path d="M1736.10 1227.70L1744.24 1241.80L1727.96 1241.80Z" fill="#fff" stroke="#231f20" stroke-width="2.4" stroke-linejoin="miter"/>
<path d="M1751.70 1227.70L1759.84 1241.80L1743.56 1241.80Z" fill="#fff" stroke="#231f20" stroke-width="2.4" stroke-linejoin="miter"/>
<path d="M1711.70 1227.70L1719.84 1241.80L1703.56 1241.80Z" fill="#fff" stroke="#231f20" stroke-width="2.4" stroke-linejoin="miter"/>
<path d="M1868.60 1227.70L1876.74 1241.80L1860.46 1241.80Z" fill="#fff" stroke="#231f20" stroke-width="2.4" stroke-linejoin="miter"/>
<path d="M1777.80 1227.70L1785.94 1241.80L1769.66 1241.80Z" fill="#fff" stroke="#231f20" stroke-width="2.4" stroke-linejoin="miter"/>
<path d="M1795.75 1227.70L1803.89 1241.80L1787.61 1241.80Z" fill="#fff" stroke="#231f20" stroke-width="2.4" stroke-linejoin="miter"/>
<path d="M1813.90 1227.70L1822.04 1241.80L1805.76 1241.80Z" fill="#fff" stroke="#231f20" stroke-width="2.4" stroke-linejoin="miter"/>
<path d="M1791.70 1227.70L1799.84 1241.80L1783.56 1241.80Z" fill="#fff" stroke="#231f20" stroke-width="2.4" stroke-linejoin="miter"/>
<path d="M1788.90 1227.70L1797.04 1241.80L1780.76 1241.80Z" fill="#fff" stroke="#231f20" stroke-width="2.4" stroke-linejoin="miter"/>
<path d="M1755.00 1227.70L1763.14 1241.80L1746.86 1241.80Z" fill="#fff" stroke="#231f20" stroke-width="2.4" stroke-linejoin="miter"/>
<rect x="1752.80" y="1277.20" width="50.80" height="48.60" fill="none" stroke="#231f20" stroke-width="2.1"/>
<line x1="1786.90" y1="1277.20" x2="1786.90" y2="1325.80" stroke="#231f20" stroke-width="2.1"/>
<line x1="1708.30" y1="1301.30" x2="1877.80" y2="1301.30" stroke="#231f20" stroke-width="1.6"/>
<path d="M1769.40 1291.90L1777.54 1306.00L1761.26 1306.00Z" fill="#fff" stroke="#231f20" stroke-width="2.4" stroke-linejoin="miter"/>
<path d="M1786.10 1291.90L1794.24 1306.00L1777.96 1306.00Z" fill="#fff" stroke="#231f20" stroke-width="2.4" stroke-linejoin="miter"/>
<path d="M1808.30 1291.90L1816.44 1306.00L1800.16 1306.00Z" fill="#fff" stroke="#231f20" stroke-width="2.4" stroke-linejoin="miter"/>
<path d="M1845.80 1291.90L1853.94 1306.00L1837.66 1306.00Z" fill="#fff" stroke="#231f20" stroke-width="2.4" stroke-linejoin="miter"/>
<path d="M1727.80 1291.90L1735.94 1306.00L1719.66 1306.00Z" fill="#fff" stroke="#231f20" stroke-width="2.4" stroke-linejoin="miter"/>
<path d="M1790.15 1291.90L1798.29 1306.00L1782.01 1306.00Z" fill="#fff" stroke="#231f20" stroke-width="2.4" stroke-linejoin="miter"/>
<path d="M1802.80 1291.90L1810.94 1306.00L1794.66 1306.00Z" fill="#fff" stroke="#231f20" stroke-width="2.4" stroke-linejoin="miter"/>
<path d="M1833.95 1291.90L1842.09 1306.00L1825.81 1306.00Z" fill="#fff" stroke="#231f20" stroke-width="2.4" stroke-linejoin="miter"/>
<path d="M1837.50 1291.90L1845.64 1306.00L1829.36 1306.00Z" fill="#fff" stroke="#231f20" stroke-width="2.4" stroke-linejoin="miter"/>
<path d="M1737.50 1291.90L1745.64 1306.00L1729.36 1306.00Z" fill="#fff" stroke="#231f20" stroke-width="2.4" stroke-linejoin="miter"/>
<path d="M1722.20 1291.90L1730.34 1306.00L1714.06 1306.00Z" fill="#fff" stroke="#231f20" stroke-width="2.4" stroke-linejoin="miter"/>
<path d="M1748.60 1291.90L1756.74 1306.00L1740.46 1306.00Z" fill="#fff" stroke="#231f20" stroke-width="2.4" stroke-linejoin="miter"/>
<path d="M1816.70 1291.90L1824.84 1306.00L1808.56 1306.00Z" fill="#fff" stroke="#231f20" stroke-width="2.4" stroke-linejoin="miter"/>
<path d="M1829.20 1291.90L1837.34 1306.00L1821.06 1306.00Z" fill="#fff" stroke="#231f20" stroke-width="2.4" stroke-linejoin="miter"/>
<path d="M1782.55 1291.90L1790.69 1306.00L1774.41 1306.00Z" fill="#fff" stroke="#231f20" stroke-width="2.4" stroke-linejoin="miter"/>
<path d="M1774.20 1291.90L1782.34 1306.00L1766.06 1306.00Z" fill="#fff" stroke="#231f20" stroke-width="2.4" stroke-linejoin="miter"/>
<path d="M1777.80 1291.90L1785.94 1306.00L1769.66 1306.00Z" fill="#fff" stroke="#231f20" stroke-width="2.4" stroke-linejoin="miter"/>
<path d="M1842.25 1291.90L1850.39 1306.00L1834.11 1306.00Z" fill="#fff" stroke="#231f20" stroke-width="2.4" stroke-linejoin="miter"/>
<path d="M1937.50 1291.90L1945.64 1306.00L1929.36 1306.00Z" fill="#fff" stroke="#231f20" stroke-width="2.4" stroke-linejoin="miter"/>
<path d="M1725.60 1291.90L1733.74 1306.00L1717.46 1306.00Z" fill="#fff" stroke="#231f20" stroke-width="2.4" stroke-linejoin="miter"/>
<path d="M1587.20 1291.90L1595.34 1306.00L1579.06 1306.00Z" fill="#fff" stroke="#231f20" stroke-width="2.4" stroke-linejoin="miter"/>
<path d="M1658.90 1291.90L1667.04 1306.00L1650.76 1306.00Z" fill="#fff" stroke="#231f20" stroke-width="2.4" stroke-linejoin="miter"/>
<path d="M1758.30 1291.90L1766.44 1306.00L1750.16 1306.00Z" fill="#fff" stroke="#231f20" stroke-width="2.4" stroke-linejoin="miter"/>
<path d="M1793.00 1291.90L1801.14 1306.00L1784.86 1306.00Z" fill="#fff" stroke="#231f20" stroke-width="2.4" stroke-linejoin="miter"/>
<path d="M1708.30 1291.90L1716.44 1306.00L1700.16 1306.00Z" fill="#fff" stroke="#231f20" stroke-width="2.4" stroke-linejoin="miter"/>
<path d="M1813.10 1291.90L1821.24 1306.00L1804.96 1306.00Z" fill="#fff" stroke="#231f20" stroke-width="2.4" stroke-linejoin="miter"/>
<path d="M1877.80 1291.90L1885.94 1306.00L1869.66 1306.00Z" fill="#fff" stroke="#231f20" stroke-width="2.4" stroke-linejoin="miter"/>
<line x1="1727.50" y1="1341.50" x2="1727.50" y2="1389.50" stroke="#231f20" stroke-width="2.7"/>
<path d="M1727.50 1356.10L1735.64 1370.20L1719.36 1370.20Z" fill="#fff" stroke="#231f20" stroke-width="2.4" stroke-linejoin="miter"/>
<line x1="1614.70" y1="1405.70" x2="1614.70" y2="1453.70" stroke="#231f20" stroke-width="2.7"/>
<path d="M1614.70 1420.30L1622.84 1434.40L1606.56 1434.40Z" fill="#fff" stroke="#231f20" stroke-width="2.4" stroke-linejoin="miter"/>
<line x1="1659.40" y1="1469.90" x2="1659.40" y2="1517.90" stroke="#231f20" stroke-width="2.7"/>
<path d="M1659.40 1484.50L1667.54 1498.60L1651.26 1498.60Z" fill="#fff" stroke="#231f20" stroke-width="2.4" stroke-linejoin="miter"/>
<line x1="1645.30" y1="1534.10" x2="1645.30" y2="1582.10" stroke="#231f20" stroke-width="2.7"/>
<path d="M1645.30 1548.70L1653.44 1562.80L1637.16 1562.80Z" fill="#fff" stroke="#231f20" stroke-width="2.4" stroke-linejoin="miter"/>
<line x1="1585.60" y1="1598.30" x2="1585.60" y2="1646.30" stroke="#231f20" stroke-width="2.7"/>
<path d="M1585.60 1612.90L1593.74 1627.00L1577.46 1627.00Z" fill="#fff" stroke="#231f20" stroke-width="2.4" stroke-linejoin="miter"/>
<line x1="1591.10" y1="1662.50" x2="1591.10" y2="1710.50" stroke="#231f20" stroke-width="2.7"/>
<path d="M1591.10 1677.10L1599.24 1691.20L1582.96 1691.20Z" fill="#fff" stroke="#231f20" stroke-width="2.4" stroke-linejoin="miter"/>
<rect x="1431.40" y="1726.90" width="45.00" height="48.40" fill="none" stroke="#231f20" stroke-width="2.1"/>
<line x1="1451.10" y1="1726.90" x2="1451.10" y2="1775.30" stroke="#231f20" stroke-width="2.1"/>
<line x1="1396.10" y1="1750.70" x2="1510.00" y2="1750.70" stroke="#231f20" stroke-width="1.6"/>
<path d="M1548.30 1741.30L1556.44 1755.40L1540.16 1755.40Z" fill="#fff" stroke="#231f20" stroke-width="2.4" stroke-linejoin="miter"/>
<path d="M1425.30 1741.30L1433.44 1755.40L1417.16 1755.40Z" fill="#fff" stroke="#231f20" stroke-width="2.4" stroke-linejoin="miter"/>
<path d="M1466.90 1741.30L1475.04 1755.40L1458.76 1755.40Z" fill="#fff" stroke="#231f20" stroke-width="2.4" stroke-linejoin="miter"/>
<path d="M1556.70 1741.30L1564.84 1755.40L1548.56 1755.40Z" fill="#fff" stroke="#231f20" stroke-width="2.4" stroke-linejoin="miter"/>
<path d="M1553.10 1741.30L1561.24 1755.40L1544.96 1755.40Z" fill="#fff" stroke="#231f20" stroke-width="2.4" stroke-linejoin="miter"/>
<path d="M1411.40 1741.30L1419.54 1755.40L1403.26 1755.40Z" fill="#fff" stroke="#231f20" stroke-width="2.4" stroke-linejoin="miter"/>
<path d="M1418.30 1741.30L1426.44 1755.40L1410.16 1755.40Z" fill="#fff" stroke="#231f20" stroke-width="2.4" stroke-linejoin="miter"/>
<path d="M1477.95 1741.30L1486.09 1755.40L1469.81 1755.40Z" fill="#fff" stroke="#231f20" stroke-width="2.4" stroke-linejoin="miter"/>
<path d="M1305.00 1741.30L1313.14 1755.40L1296.86 1755.40Z" fill="#fff" stroke="#231f20" stroke-width="2.4" stroke-linejoin="miter"/>
<path d="M1446.70 1741.30L1454.84 1755.40L1438.56 1755.40Z" fill="#fff" stroke="#231f20" stroke-width="2.4" stroke-linejoin="miter"/>
<path d="M1422.40 1741.30L1430.54 1755.40L1414.26 1755.40Z" fill="#fff" stroke="#231f20" stroke-width="2.4" stroke-linejoin="miter"/>
<path d="M1450.30 1741.30L1458.44 1755.40L1442.16 1755.40Z" fill="#fff" stroke="#231f20" stroke-width="2.4" stroke-linejoin="miter"/>
<path d="M1480.80 1741.30L1488.94 1755.40L1472.66 1755.40Z" fill="#fff" stroke="#231f20" stroke-width="2.4" stroke-linejoin="miter"/>
<path d="M1484.90 1741.30L1493.04 1755.40L1476.76 1755.40Z" fill="#fff" stroke="#231f20" stroke-width="2.4" stroke-linejoin="miter"/>
<path d="M1473.90 1741.30L1482.04 1755.40L1465.76 1755.40Z" fill="#fff" stroke="#231f20" stroke-width="2.4" stroke-linejoin="miter"/>
<path d="M1441.90 1741.30L1450.04 1755.40L1433.76 1755.40Z" fill="#fff" stroke="#231f20" stroke-width="2.4" stroke-linejoin="miter"/>
<path d="M1487.80 1741.30L1495.94 1755.40L1479.66 1755.40Z" fill="#fff" stroke="#231f20" stroke-width="2.4" stroke-linejoin="miter"/>
<path d="M1510.00 1741.30L1518.14 1755.40L1501.86 1755.40Z" fill="#fff" stroke="#231f20" stroke-width="2.4" stroke-linejoin="miter"/>
<path d="M1415.45 1741.30L1423.59 1755.40L1407.31 1755.40Z" fill="#fff" stroke="#231f20" stroke-width="2.4" stroke-linejoin="miter"/>
<path d="M1455.05 1741.30L1463.19 1755.40L1446.91 1755.40Z" fill="#fff" stroke="#231f20" stroke-width="2.4" stroke-linejoin="miter"/>
<path d="M1497.50 1741.30L1505.64 1755.40L1489.36 1755.40Z" fill="#fff" stroke="#231f20" stroke-width="2.4" stroke-linejoin="miter"/>
<path d="M1463.35 1741.30L1471.49 1755.40L1455.21 1755.40Z" fill="#fff" stroke="#231f20" stroke-width="2.4" stroke-linejoin="miter"/>
<path d="M1433.60 1741.30L1441.74 1755.40L1425.46 1755.40Z" fill="#fff" stroke="#231f20" stroke-width="2.4" stroke-linejoin="miter"/>
<path d="M1404.40 1741.30L1412.54 1755.40L1396.26 1755.40Z" fill="#fff" stroke="#231f20" stroke-width="2.4" stroke-linejoin="miter"/>
<path d="M1458.60 1741.30L1466.74 1755.40L1450.46 1755.40Z" fill="#fff" stroke="#231f20" stroke-width="2.4" stroke-linejoin="miter"/>
<path d="M1400.85 1741.30L1408.99 1755.40L1392.71 1755.40Z" fill="#fff" stroke="#231f20" stroke-width="2.4" stroke-linejoin="miter"/>
<path d="M1396.10 1741.30L1404.24 1755.40L1387.96 1755.40Z" fill="#fff" stroke="#231f20" stroke-width="2.4" stroke-linejoin="miter"/>
<path d="M1471.00 1741.30L1479.14 1755.40L1462.86 1755.40Z" fill="#fff" stroke="#231f20" stroke-width="2.4" stroke-linejoin="miter"/>
<path d="M1438.35 1741.30L1446.49 1755.40L1430.21 1755.40Z" fill="#fff" stroke="#231f20" stroke-width="2.4" stroke-linejoin="miter"/>
<path d="M1408.50 1741.30L1416.64 1755.40L1400.36 1755.40Z" fill="#fff" stroke="#231f20" stroke-width="2.4" stroke-linejoin="miter"/>
<path d="M1430.05 1741.30L1438.19 1755.40L1421.91 1755.40Z" fill="#fff" stroke="#231f20" stroke-width="2.4" stroke-linejoin="miter"/>
<text transform="translate(1251.90,1050.30) scale(0.85,1)" font-size="24" text-anchor="end" fill="#231f20" stroke="#231f20" stroke-width="0.75" stroke-linejoin="round"><tspan font-style="italic">Pongo</tspan> spp.</text>
<text transform="translate(1249.60,1115.00) scale(0.85,1)" font-size="24" text-anchor="end" fill="#231f20" stroke="#231f20" stroke-width="0.75" stroke-linejoin="round"><tspan font-style="italic">G. beringei</tspan></text>
<text transform="translate(1251.90,1179.40) scale(0.85,1)" font-size="24" text-anchor="end" fill="#231f20" stroke="#231f20" stroke-width="0.75" stroke-linejoin="round"><tspan font-style="italic">G. gorilla</tspan></text>
<text transform="translate(1251.90,1243.90) scale(0.85,1)" font-size="24" text-anchor="end" fill="#231f20" stroke="#231f20" stroke-width="0.75" stroke-linejoin="round"><tspan font-style="italic">P. paniscus</tspan></text>
<text transform="translate(1251.90,1308.00) scale(0.85,1)" font-size="24" text-anchor="end" fill="#231f20" stroke="#231f20" stroke-width="0.75" stroke-linejoin="round"><tspan font-style="italic">P. troglodytes</tspan></text>
<text transform="translate(1251.90,1374.10) scale(0.85,1)" font-size="24" text-anchor="end" fill="#231f20" stroke="#231f20" stroke-width="0.75" stroke-linejoin="round">GWM67/P2u</text>
<text transform="translate(1251.90,1438.30) scale(0.85,1)" font-size="24" text-anchor="end" fill="#231f20" stroke="#231f20" stroke-width="0.75" stroke-linejoin="round">ARA−VP−6/500−044</text>
<text transform="translate(1251.90,1502.50) scale(0.85,1)" font-size="24" text-anchor="end" fill="#231f20" stroke="#231f20" stroke-width="0.75" stroke-linejoin="round">A.L. 333−115i</text>
<text transform="translate(1251.90,1566.80) scale(0.85,1)" font-size="24" text-anchor="end" fill="#231f20" stroke="#231f20" stroke-width="0.75" stroke-linejoin="round">A.L. 333−154</text>
<text transform="translate(1251.90,1631.00) scale(0.85,1)" font-size="24" text-anchor="end" fill="#231f20" stroke="#231f20" stroke-width="0.75" stroke-linejoin="round">A.L. 333−60</text>
<text transform="translate(1251.90,1695.20) scale(0.85,1)" font-size="24" text-anchor="end" fill="#231f20" stroke="#231f20" stroke-width="0.75" stroke-linejoin="round">KNM−ER 101000</text>
<text transform="translate(1251.90,1759.00) scale(0.85,1)" font-size="24" text-anchor="end" fill="#231f20" stroke="#231f20" stroke-width="0.75" stroke-linejoin="round"><tspan font-style="italic">Homo sapiens</tspan></text>
<text transform="translate(1278.60,1820.00) scale(0.85,1)" font-size="23" text-anchor="middle" fill="#231f20" stroke="#231f20" stroke-width="0.75" stroke-linejoin="round">0.4</text>
<text transform="translate(1515.60,1820.00) scale(0.85,1)" font-size="23" text-anchor="middle" fill="#231f20" stroke="#231f20" stroke-width="0.75" stroke-linejoin="round">0.8</text>
<text transform="translate(1752.60,1820.00) scale(0.85,1)" font-size="23" text-anchor="middle" fill="#231f20" stroke="#231f20" stroke-width="0.75" stroke-linejoin="round">1.2</text>
<text transform="translate(1989.60,1820.00) scale(0.85,1)" font-size="23" text-anchor="middle" fill="#231f20" stroke="#231f20" stroke-width="0.75" stroke-linejoin="round">1.6</text>
<text transform="translate(1673.00,1855.30) scale(0.866,1)" font-size="21.8" text-anchor="middle" fill="#231f20" stroke="#231f20" stroke-width="0.75" stroke-linejoin="round">PP5 length ratio</text>
<text transform="translate(1675.50,1881.70) scale(0.866,1)" font-size="21.8" text-anchor="middle" fill="#231f20" stroke="#231f20" stroke-width="0.75" stroke-linejoin="round">log(L/BML)</text>
<g clip-path="url(#clipH)">
<path d="M218.8 184.7C213.2 182.5 208.9 176.6 205.3 172.0C201.6 167.4 198.4 161.6 196.9 156.8C195.3 152.1 195.7 147.3 196.0 143.3C196.3 139.4 197.0 136.6 198.5 133.2C200.1 129.8 203.0 125.9 205.3 123.1C207.5 120.3 209.2 117.8 212.0 116.4C214.9 115.0 218.2 114.7 222.2 114.7C226.1 114.7 230.0 117.2 235.6 116.4C241.3 115.5 248.3 111.9 255.9 109.6C263.5 107.4 272.7 105.0 281.2 102.9C289.6 100.8 298.0 99.5 306.5 97.0C314.9 94.4 324.7 90.4 331.8 87.7C338.8 85.0 343.0 83.2 348.6 80.9C354.3 78.7 361.0 75.6 365.5 74.2C370.0 72.8 372.0 72.4 375.6 72.5C379.3 72.7 383.8 74.8 387.4 75.0C391.1 75.3 394.7 74.8 397.5 74.2C400.3 73.6 402.7 72.2 404.3 71.7C405.9 71.1 406.3 70.0 407.3 70.8C408.3 71.7 408.9 73.2 410.2 76.7C411.5 80.2 413.3 85.0 415.2 91.9C417.2 98.8 419.5 109.5 422.0 118.0C424.5 126.6 427.1 137.2 430.1 143.3C433.0 149.5 437.7 152.3 439.7 155.1C441.7 158.0 442.2 158.2 442.2 160.2C442.2 162.2 441.8 165.0 439.7 166.9C437.6 168.9 433.0 170.0 429.6 172.0C426.2 174.0 422.3 176.8 419.5 178.8C416.6 180.7 416.1 182.7 412.7 183.8C409.3 184.9 402.9 185.0 399.2 185.2C395.6 185.3 393.6 185.7 390.8 184.7C388.0 183.6 386.6 180.9 382.4 178.8C378.1 176.6 372.5 174.1 365.5 172.0C358.5 169.9 348.6 167.4 340.2 166.1C331.8 164.8 323.3 164.4 314.9 164.4C306.5 164.4 297.2 165.1 289.6 166.1C282.0 167.1 275.0 168.5 269.4 170.3C263.8 172.1 259.5 175.0 255.9 177.1C252.2 179.2 250.3 181.6 247.5 183.0C244.6 184.3 243.8 184.9 239.0 185.2C234.2 185.4 224.4 186.8 218.8 184.7Z" fill="#eeeeee"/>
<path d="M196.0 143.3C196.4 141.7 197.0 136.6 198.5 133.2C200.1 129.8 203.0 125.9 205.3 123.1C207.5 120.3 209.2 117.8 212.0 116.4C214.9 115.0 218.2 114.7 222.2 114.7C226.1 114.7 230.0 117.2 235.6 116.4C241.3 115.5 248.3 111.9 255.9 109.6C263.5 107.4 272.7 105.0 281.2 102.9C289.6 100.8 298.0 99.5 306.5 97.0C314.9 94.4 324.7 90.4 331.8 87.7C338.8 85.0 343.0 83.2 348.6 80.9C354.3 78.7 361.0 75.6 365.5 74.2C370.0 72.8 372.0 72.4 375.6 72.5C379.3 72.7 383.8 74.8 387.4 75.0C391.1 75.3 394.7 74.8 397.5 74.2C400.3 73.6 402.7 72.2 404.3 71.7C405.9 71.1 406.8 71.0 407.3 70.8" fill="none" stroke="#858585" stroke-width="14" filter="url(#blur4)" opacity="0.6"/>
<path d="M281.2 102.9C285.4 101.9 298.0 99.5 306.5 97.0C314.9 94.4 324.7 90.4 331.8 87.7C338.8 85.0 343.0 83.2 348.6 80.9C354.3 78.7 361.0 75.6 365.5 74.2C370.0 72.8 372.0 72.4 375.6 72.5C379.3 72.7 383.8 74.8 387.4 75.0C391.1 75.3 394.7 74.8 397.5 74.2C400.3 73.6 402.7 72.2 404.3 71.7C405.9 71.1 406.8 71.0 407.3 70.8" fill="none" stroke="#7a7a7a" stroke-width="36" filter="url(#blur6)" opacity="0.75"/>
<path d="M331.8 87.7C334.6 86.6 343.0 83.2 348.6 80.9C354.3 78.7 361.0 75.6 365.5 74.2C370.0 72.8 372.0 72.4 375.6 72.5C379.3 72.7 383.8 74.8 387.4 75.0C391.1 75.3 394.7 74.8 397.5 74.2C400.3 73.6 402.7 72.2 404.3 71.7C405.9 71.1 406.8 71.0 407.3 70.8" fill="none" stroke="#777" stroke-width="20" filter="url(#blur4)" opacity="0.4"/>
<path d="M429.6 172.0C427.9 173.1 422.3 176.8 419.5 178.8C416.6 180.7 416.1 182.7 412.7 183.8C409.3 184.9 402.9 185.0 399.2 185.2C395.6 185.3 393.6 185.7 390.8 184.7C388.0 183.6 386.6 180.9 382.4 178.8C378.1 176.6 372.5 174.1 365.5 172.0C358.5 169.9 348.6 167.4 340.2 166.1C331.8 164.8 323.3 164.4 314.9 164.4C306.5 164.4 297.2 165.1 289.6 166.1C282.0 167.1 275.0 168.5 269.4 170.3C263.8 172.1 259.5 175.0 255.9 177.1C252.2 179.2 250.3 181.6 247.5 183.0C244.6 184.3 243.8 184.9 239.0 185.2C234.2 185.4 224.4 186.8 218.8 184.7C213.2 182.5 208.9 176.6 205.3 172.0C201.6 167.4 198.4 161.6 196.9 156.8C195.3 152.1 196.2 145.6 196.0 143.3" fill="none" stroke="#808080" stroke-width="13" filter="url(#blur4)" opacity="0.8"/>
<path d="M375.6 74.2C376.5 76.4 379.1 82.6 380.7 87.7C382.2 92.7 383.6 98.9 384.9 104.6C386.2 110.2 387.0 115.5 388.3 121.4C389.5 127.3 390.7 134.1 392.5 140.0C394.3 145.9 398.1 154.0 399.2 156.8" fill="none" stroke="#8a8a8a" stroke-width="9" filter="url(#blur2)" opacity="0.55"/>
<path d="M397.5 75.9C398.1 79.0 399.8 87.4 400.9 94.4C402.0 101.5 402.6 111.3 404.3 118.0C406.0 124.8 408.2 129.8 411.0 134.9C413.8 140.0 419.5 146.1 421.1 148.4" fill="none" stroke="#909090" stroke-width="6" filter="url(#blur2)" opacity="0.45"/>
<ellipse cx="300" cy="150" rx="100" ry="24" fill="url(#gHw)"/>
<ellipse cx="232" cy="150" rx="30" ry="28" fill="url(#gHw)"/>
<ellipse cx="385" cy="128" rx="26" ry="30" fill="url(#gHw)"/>
<ellipse cx="425" cy="120" rx="12" ry="45" fill="url(#gHw)" transform="rotate(-18 425 120)"/>
<ellipse cx="340" cy="132" rx="70" ry="16" fill="url(#gHw)" transform="rotate(-12 340 132)"/>
<rect x="190" y="60" width="260" height="130" filter="url(#noise)"/>
<rect x="190" y="60" width="260" height="130" filter="url(#noiseW)"/>
</g>
<path d="M218.8 184.7C213.2 182.5 208.9 176.6 205.3 172.0C201.6 167.4 198.4 161.6 196.9 156.8C195.3 152.1 195.7 147.3 196.0 143.3C196.3 139.4 197.0 136.6 198.5 133.2C200.1 129.8 203.0 125.9 205.3 123.1C207.5 120.3 209.2 117.8 212.0 116.4C214.9 115.0 218.2 114.7 222.2 114.7C226.1 114.7 230.0 117.2 235.6 116.4C241.3 115.5 248.3 111.9 255.9 109.6C263.5 107.4 272.7 105.0 281.2 102.9C289.6 100.8 298.0 99.5 306.5 97.0C314.9 94.4 324.7 90.4 331.8 87.7C338.8 85.0 343.0 83.2 348.6 80.9C354.3 78.7 361.0 75.6 365.5 74.2C370.0 72.8 372.0 72.4 375.6 72.5C379.3 72.7 383.8 74.8 387.4 75.0C391.1 75.3 394.7 74.8 397.5 74.2C400.3 73.6 402.7 72.2 404.3 71.7C405.9 71.1 406.3 70.0 407.3 70.8C408.3 71.7 408.9 73.2 410.2 76.7C411.5 80.2 413.3 85.0 415.2 91.9C417.2 98.8 419.5 109.5 422.0 118.0C424.5 126.6 427.1 137.2 430.1 143.3C433.0 149.5 437.7 152.3 439.7 155.1C441.7 158.0 442.2 158.2 442.2 160.2C442.2 162.2 441.8 165.0 439.7 166.9C437.6 168.9 433.0 170.0 429.6 172.0C426.2 174.0 422.3 176.8 419.5 178.8C416.6 180.7 416.1 182.7 412.7 183.8C409.3 184.9 402.9 185.0 399.2 185.2C395.6 185.3 393.6 185.7 390.8 184.7C388.0 183.6 386.6 180.9 382.4 178.8C378.1 176.6 372.5 174.1 365.5 172.0C358.5 169.9 348.6 167.4 340.2 166.1C331.8 164.8 323.3 164.4 314.9 164.4C306.5 164.4 297.2 165.1 289.6 166.1C282.0 167.1 275.0 168.5 269.4 170.3C263.8 172.1 259.5 175.0 255.9 177.1C252.2 179.2 250.3 181.6 247.5 183.0C244.6 184.3 243.8 184.9 239.0 185.2C234.2 185.4 224.4 186.8 218.8 184.7Z" fill="none" stroke="#8f8f8f" stroke-width="0.9" opacity="0.75"/>
<g clip-path="url(#clipC)">
<path d="M755.6 184.7C750.9 183.5 746.1 180.3 742.2 177.1C738.2 173.8 734.4 169.5 732.0 165.3C729.7 161.0 728.4 156.0 727.8 151.8C727.3 147.6 727.8 143.9 728.7 140.0C729.5 136.0 731.2 131.8 732.9 128.2C734.6 124.5 736.1 120.6 738.8 118.0C741.5 115.5 745.8 113.9 748.9 113.0C752.0 112.1 754.2 112.5 757.3 112.6C760.4 112.8 763.8 113.5 767.5 113.8C771.1 114.1 774.8 114.8 779.3 114.3C783.8 113.9 788.0 112.5 794.4 111.3C800.9 110.1 808.5 108.8 818.0 107.1C827.6 105.4 840.5 102.9 851.8 101.2C863.0 99.5 874.3 98.2 885.5 97.0C896.7 95.7 909.4 94.4 919.2 93.6C929.1 92.8 937.8 92.8 944.5 92.4C951.3 92.0 956.6 91.3 959.7 91.4C962.8 91.5 961.9 91.1 963.1 92.7C964.2 94.4 965.3 97.5 966.4 101.2C967.6 104.8 969.0 110.2 969.8 114.7C970.7 119.2 971.5 123.4 971.5 128.2C971.5 132.9 970.4 138.0 969.8 143.3C969.3 148.7 968.8 155.4 968.1 160.2C967.4 165.0 966.9 168.9 965.6 172.0C964.3 175.1 963.2 176.9 960.5 178.8C957.9 180.6 953.7 182.1 949.6 183.0C945.5 183.9 940.0 184.3 936.1 184.1C932.2 184.0 930.2 183.6 926.0 182.1C921.8 180.7 916.1 177.6 910.8 175.4C905.5 173.1 901.0 170.7 893.9 168.6C886.9 166.5 877.1 164.1 868.6 162.7C860.2 161.3 851.8 160.5 843.3 160.2C834.9 159.9 825.1 160.3 818.0 161.0C811.0 161.7 805.1 163.2 801.2 164.4C797.2 165.7 796.4 166.8 794.4 168.6C792.5 170.5 791.6 173.3 789.4 175.4C787.1 177.5 784.0 179.8 780.9 181.3C777.9 182.7 775.0 183.6 770.8 184.1C766.6 184.7 760.4 185.8 755.6 184.7Z" fill="#dedede"/>
<path d="M816.7 149.4C818.0 146.9 840.3 142.2 853.9 140.5C867.6 138.7 886.7 138.0 898.6 139.0C910.5 140.0 919.2 142.2 925.4 146.4C931.6 150.6 934.5 158.8 935.8 164.3C937.0 169.7 936.5 177.7 932.8 179.2C929.1 180.7 921.6 175.9 913.5 173.2C905.3 170.5 894.9 165.8 883.7 162.8C872.5 159.8 857.6 157.6 846.5 155.4C835.3 153.1 815.5 151.9 816.7 149.4Z" fill="#9a9a9a" filter="url(#blur4)" opacity="0.72"/>
<path d="M891.1 106.2C897.3 102.3 932.8 94.8 943.2 95.8C953.6 96.8 954.9 107.2 953.6 112.2C952.4 117.2 943.7 124.4 935.8 125.6C927.8 126.8 913.5 122.9 906.0 119.6C898.6 116.4 884.9 110.2 891.1 106.2Z" fill="#a0a0a0" filter="url(#blur4)" opacity="0.75"/>
<path d="M906.0 124.1C908.5 126.3 916.7 132.8 920.9 137.5C925.1 142.2 929.1 147.4 931.3 152.4C933.5 157.3 933.8 164.8 934.3 167.3" fill="none" stroke="#a0a0a0" stroke-width="8" filter="url(#blur2)" opacity="0.7"/>
<path d="M728.9 146.4C729.4 144.4 730.7 138.5 731.9 134.5C733.1 130.6 734.1 125.8 736.4 122.6C738.6 119.4 741.6 116.8 745.3 115.2C749.0 113.6 752.5 113.1 758.7 112.9C764.9 112.7 775.1 114.4 782.5 114.0C789.9 113.6 793.9 112.3 803.3 110.7C812.8 109.2 825.7 106.7 839.0 104.8C852.4 102.8 868.8 100.7 883.7 98.8C898.6 96.9 915.4 94.8 928.3 93.6C941.2 92.4 955.6 92.0 961.1 91.7" fill="none" stroke="#8c8c8c" stroke-width="7" filter="url(#blur2)" opacity="0.75"/>
<path d="M791.4 170.2C792.9 169.0 796.4 164.8 800.4 162.8C804.3 160.8 808.8 159.4 815.2 158.3C821.7 157.2 830.1 156.1 839.0 156.1C848.0 156.1 860.1 157.0 868.8 158.3C877.5 159.7 884.2 161.8 891.1 164.3C898.1 166.8 904.8 170.2 910.5 173.2C916.2 176.2 920.4 180.0 925.4 182.1C930.3 184.3 934.8 185.6 940.2 185.9C945.7 186.1 955.1 184.0 958.1 183.6" fill="none" stroke="#909090" stroke-width="8" filter="url(#blur2)" opacity="0.75"/>
<path d="M784.0 126.3C788.7 127.5 803.1 131.7 812.3 133.0C821.4 134.4 829.6 134.6 839.0 134.5C848.5 134.4 860.1 133.2 868.8 132.3C877.5 131.4 883.7 130.8 891.1 129.3C898.6 127.8 909.7 124.4 913.5 123.4" fill="none" stroke="#fff" stroke-width="8" filter="url(#blur2)" opacity="0.95"/>
<path d="M803.3 119.6C809.3 118.9 826.9 116.8 839.0 115.2C851.2 113.6 866.3 111.3 876.2 110.0C886.2 108.6 894.9 107.5 898.6 107.0" fill="none" stroke="#fff" stroke-width="5" filter="url(#blur2)" opacity="0.6"/>
<ellipse cx="763.2" cy="152.4" rx="33.5" ry="33.5" fill="url(#gHw)"/>
<ellipse cx="764.6" cy="142.0" rx="15.6" ry="12.3" fill="url(#gHw)"/>
<ellipse cx="749.8" cy="164.3" rx="15.6" ry="13.4" fill="url(#gHw)"/>
<ellipse cx="773.6" cy="171.7" rx="13.4" ry="11.2" fill="url(#gHw)"/>
<ellipse cx="755.7" cy="131.5" rx="11.2" ry="6.7" fill="url(#gHw)"/>
<ellipse cx="784.0" cy="152.4" rx="6.7" ry="13.4" fill="url(#gHw)"/>
<ellipse cx="951.4" cy="144.9" rx="16" ry="34" fill="url(#gHw)"/>
<ellipse cx="951.4" cy="144.9" rx="11" ry="26" fill="url(#gHw)"/>
<ellipse cx="943.2" cy="167.3" rx="12" ry="12" fill="url(#gHw)"/>
<circle cx="795.9" cy="151.6" r="3.2" fill="#7e7e7e" opacity="0.75"/>
<circle cx="805.6" cy="142.0" r="2" fill="#7e7e7e" opacity="0.75"/>
<circle cx="803.3" cy="152.4" r="1.6" fill="#7e7e7e" opacity="0.75"/>
<circle cx="888.2" cy="139.7" r="1.5" fill="#7e7e7e" opacity="0.75"/>
<circle cx="954.4" cy="119.6" r="1.8" fill="#7e7e7e" opacity="0.75"/>
</g>
<path d="M755.6 184.7C750.9 183.5 746.1 180.3 742.2 177.1C738.2 173.8 734.4 169.5 732.0 165.3C729.7 161.0 728.4 156.0 727.8 151.8C727.3 147.6 727.8 143.9 728.7 140.0C729.5 136.0 731.2 131.8 732.9 128.2C734.6 124.5 736.1 120.6 738.8 118.0C741.5 115.5 745.8 113.9 748.9 113.0C752.0 112.1 754.2 112.5 757.3 112.6C760.4 112.8 763.8 113.5 767.5 113.8C771.1 114.1 774.8 114.8 779.3 114.3C783.8 113.9 788.0 112.5 794.4 111.3C800.9 110.1 808.5 108.8 818.0 107.1C827.6 105.4 840.5 102.9 851.8 101.2C863.0 99.5 874.3 98.2 885.5 97.0C896.7 95.7 909.4 94.4 919.2 93.6C929.1 92.8 937.8 92.8 944.5 92.4C951.3 92.0 956.6 91.3 959.7 91.4C962.8 91.5 961.9 91.1 963.1 92.7C964.2 94.4 965.3 97.5 966.4 101.2C967.6 104.8 969.0 110.2 969.8 114.7C970.7 119.2 971.5 123.4 971.5 128.2C971.5 132.9 970.4 138.0 969.8 143.3C969.3 148.7 968.8 155.4 968.1 160.2C967.4 165.0 966.9 168.9 965.6 172.0C964.3 175.1 963.2 176.9 960.5 178.8C957.9 180.6 953.7 182.1 949.6 183.0C945.5 183.9 940.0 184.3 936.1 184.1C932.2 184.0 930.2 183.6 926.0 182.1C921.8 180.7 916.1 177.6 910.8 175.4C905.5 173.1 901.0 170.7 893.9 168.6C886.9 166.5 877.1 164.1 868.6 162.7C860.2 161.3 851.8 160.5 843.3 160.2C834.9 159.9 825.1 160.3 818.0 161.0C811.0 161.7 805.1 163.2 801.2 164.4C797.2 165.7 796.4 166.8 794.4 168.6C792.5 170.5 791.6 173.3 789.4 175.4C787.1 177.5 784.0 179.8 780.9 181.3C777.9 182.7 775.0 183.6 770.8 184.1C766.6 184.7 760.4 185.8 755.6 184.7Z" fill="none" stroke="#9a9a9a" stroke-width="0.8" opacity="0.6"/>
<line x1="194.3" y1="186.8" x2="980.8" y2="186.8" stroke="#231f20" stroke-width="4"/>
<line x1="400.9" y1="54" x2="447.3" y2="187.2" stroke="#231f20" stroke-width="4.2" stroke-dasharray="11.7 11.7" stroke-dashoffset="6.4"/>
<line x1="967.3" y1="80.1" x2="958" y2="185.5" stroke="#231f20" stroke-width="3.8" stroke-dasharray="12.8 14.6" stroke-dashoffset="7.6"/>
<line x1="425.4" y1="120.6" x2="453.0" y2="110.4" stroke="#e8212b" stroke-width="3.8"/>
<path d="M468.0 104.9L455.6 120.4L448.5 101.1Z" fill="#e8212b"/>
<line x1="964.8" y1="133.2" x2="996.9" y2="136.0" stroke="#e8212b" stroke-width="3.8"/>
<path d="M1013.3 137.4L995.0 145.9L996.7 125.9Z" fill="#e8212b"/>
<path d="M1383.8 103.6C1382.0 106.3 1382.7 110.7 1382.9 116.1C1383.0 121.4 1382.9 128.3 1384.6 135.7C1386.4 143.2 1389.7 154.2 1393.6 160.7C1397.4 167.3 1402.5 172.2 1407.9 175.0C1413.2 177.8 1419.2 177.5 1425.7 177.7C1432.3 177.8 1441.8 177.2 1447.1 175.9C1452.5 174.6 1454.9 172.2 1457.9 169.6C1460.8 167.1 1462.5 163.4 1465.0 160.7C1467.5 158.0 1471.7 159.5 1473.0 153.6C1474.4 147.6 1486.3 133.9 1473.0 125.0C1459.8 116.1 1408.5 103.6 1393.6 100.0C1378.7 96.4 1385.5 100.9 1383.8 103.6Z" fill="#9b9b9b"/>
<path d="M1704.1 178.8C1700.8 181.5 1714.2 183.5 1720.2 186.8C1726.2 190.2 1734.2 194.5 1740.3 198.9C1746.3 203.2 1750.3 209.6 1756.3 212.9C1762.4 216.3 1770.4 218.5 1776.4 219.0C1782.5 219.5 1786.8 216.8 1792.5 216.0C1798.2 215.1 1805.2 215.4 1810.6 213.9C1815.9 212.4 1820.6 209.4 1824.6 206.9C1828.7 204.4 1832.5 201.6 1834.7 198.9C1836.9 196.2 1837.0 193.9 1837.7 190.8C1838.4 187.8 1841.5 184.1 1838.7 180.8C1835.9 177.4 1837.0 172.4 1820.6 170.8C1804.2 169.1 1759.7 169.4 1740.3 170.8C1720.8 172.1 1707.5 176.1 1704.1 178.8Z" fill="#a3a3a3"/>
<path d="M1800.5 88.4C1801.5 89.1 1805.6 101.8 1808.6 108.5C1811.6 115.2 1815.9 121.9 1818.6 128.6C1821.3 135.3 1822.5 143.3 1824.6 148.7C1826.8 154.0 1831.7 159.4 1831.7 160.7C1831.7 162.0 1827.8 161.7 1824.6 156.7C1821.5 151.7 1816.3 139.3 1812.6 130.6C1808.9 121.9 1804.5 111.5 1802.5 104.5C1800.5 97.4 1799.5 87.7 1800.5 88.4Z" fill="#a9a9a9"/>
<path d="M1385.5 132.1C1384.8 128.9 1383.9 120.5 1383.8 116.1C1383.6 111.6 1383.9 108.5 1384.6 105.4C1385.4 102.2 1386.7 99.6 1388.2 97.3C1389.7 95.1 1390.6 93.5 1393.6 92.0C1396.5 90.5 1401.6 90.0 1406.1 88.4C1410.5 86.8 1413.5 83.8 1420.4 82.1C1427.2 80.5 1436.7 80.1 1447.1 78.6C1457.6 77.1 1472.4 74.9 1482.9 73.2C1493.3 71.6 1497.7 69.9 1509.6 68.8C1521.5 67.6 1537.9 67.1 1554.3 66.1C1570.7 65.0 1590.0 63.7 1607.9 62.5C1625.7 61.3 1649.4 59.6 1661.4 58.9C1673.5 58.2 1670.2 59.2 1680.0 58.3C1689.8 57.3 1706.8 54.9 1720.2 53.2C1733.6 51.6 1751.0 49.6 1760.4 48.2C1769.7 46.9 1771.7 45.7 1776.4 45.2C1781.1 44.7 1785.3 43.0 1788.5 45.2C1791.7 47.4 1793.5 54.1 1795.5 58.3C1797.5 62.4 1799.5 66.0 1800.5 70.3C1801.5 74.7 1801.5 81.0 1801.5 84.4C1801.5 87.7 1800.0 87.0 1800.5 90.4C1801.0 93.7 1802.9 99.4 1804.5 104.5C1806.2 109.5 1808.2 114.5 1810.6 120.5C1812.9 126.6 1815.9 134.6 1818.6 140.6C1821.3 146.6 1824.0 152.3 1826.6 156.7C1829.3 161.0 1832.7 162.7 1834.7 166.7C1836.7 170.8 1838.4 177.1 1838.7 180.8C1839.0 184.5 1838.4 186.8 1836.7 188.8C1835.0 190.8 1832.0 191.3 1828.7 192.8C1825.3 194.4 1821.3 195.9 1816.6 197.9C1811.9 199.9 1805.2 202.9 1800.5 204.9C1795.8 206.9 1793.5 209.3 1788.5 209.9C1783.5 210.6 1776.8 210.4 1770.4 208.9C1764.0 207.4 1756.0 203.6 1750.3 200.9C1744.6 198.2 1741.3 195.9 1736.2 192.8C1731.2 189.8 1725.5 185.3 1720.2 182.8C1714.8 180.3 1710.8 178.8 1704.1 177.8C1697.4 176.8 1684.1 176.8 1680.0 176.8C1675.9 176.8 1682.4 178.3 1679.3 177.7C1676.2 177.1 1667.4 175.1 1661.4 173.2C1655.5 171.3 1652.5 168.3 1643.6 166.1C1634.6 163.8 1619.8 161.8 1607.9 159.8C1596.0 157.9 1584.0 156.0 1572.1 154.5C1560.2 153.0 1546.8 151.8 1536.4 150.9C1526.0 150.0 1518.0 149.4 1509.6 149.1C1501.3 148.8 1492.5 148.4 1486.4 149.1C1480.3 149.8 1477.2 152.2 1473.0 153.2C1468.9 154.3 1465.7 153.8 1461.4 155.4C1457.1 156.9 1452.8 160.4 1447.1 162.5C1441.5 164.6 1434.0 167.9 1427.5 167.9C1421.0 167.9 1413.5 165.2 1407.9 162.5C1402.2 159.8 1396.8 156.3 1393.6 151.8C1390.3 147.3 1389.6 139.0 1388.2 135.7C1386.9 132.4 1386.3 135.4 1385.5 132.1Z" fill="#dcdcdc"/>
<line x1="1352.5" y1="126" x2="1848.7" y2="126" stroke="#231f20" stroke-width="4"/>
<line x1="1790.1" y1="25.1" x2="1848.7" y2="207.9" stroke="#231f20" stroke-width="4"/>
<circle cx="1386.4" cy="126" r="8.1" fill="#fff" stroke="#e21b2c" stroke-width="4.8"/>
<circle cx="1798.5" cy="50.2" r="8.1" fill="#fff" stroke="#e21b2c" stroke-width="4.8"/>
<circle cx="1805.6" cy="126.2" r="8.1" fill="#fff" stroke="#e21b2c" stroke-width="4.8"/>
<circle cx="1840.1" cy="177.8" r="8.1" fill="#fff" stroke="#e21b2c" stroke-width="4.8"/>
<path d="M1876.9 104.5C1877.6 102.8 1880.6 97.8 1881.5 94.4C1882.3 91.1 1882.3 88.7 1881.9 84.4C1881.5 80.0 1881.1 73.3 1878.9 68.3C1876.7 63.3 1873.2 57.8 1868.8 54.2C1864.5 50.7 1858.1 48.4 1852.8 47.2C1847.4 46.0 1839.4 47.2 1836.7 47.2L1827.6 40.2L1815.6 67.3L1845.7 65.3L1842.7 60.3C1843.4 60.1 1844.1 58.9 1846.7 59.3C1849.4 59.6 1855.4 60.4 1858.8 62.3C1862.1 64.1 1865.0 66.6 1866.8 70.3C1868.7 74.0 1869.4 80.7 1869.8 84.4C1870.2 88.1 1869.9 90.1 1869.2 92.4C1868.6 94.8 1866.4 97.4 1865.8 98.4Z" fill="#231f20"/>
<text transform="translate(319.80,44.60) scale(0.86,1)" font-size="27.5" text-anchor="middle" font-style="italic" fill="#231f20" stroke="#231f20" stroke-width="0.8" stroke-linejoin="round">H. sapiens</text>
<text transform="translate(849.60,44.30) scale(0.86,1)" font-size="27.5" text-anchor="middle" font-style="italic" fill="#231f20" stroke="#231f20" stroke-width="0.8" stroke-linejoin="round">P. troglodytes</text>
<text transform="translate(1369.30,112.50) scale(0.86,1)" font-size="27" text-anchor="middle" fill="#000" stroke="#000" stroke-width="0.8" stroke-linejoin="round">2</text>
<text transform="translate(1811.00,37.20) scale(0.86,1)" font-size="27" text-anchor="middle" fill="#000" stroke="#000" stroke-width="0.8" stroke-linejoin="round">3</text>
<text transform="translate(1791.80,113.50) scale(0.68,1)" font-size="27" text-anchor="middle" fill="#000" stroke="#000" stroke-width="0.8" stroke-linejoin="round">1</text>
<text transform="translate(1862.60,185.80) scale(0.86,1)" font-size="27" text-anchor="middle" fill="#000" stroke="#000" stroke-width="0.8" stroke-linejoin="round">4</text>
<text transform="translate(1931.00,37.80) scale(1.0,1)" font-size="23.5" text-anchor="middle" fill="#231f20" stroke="#231f20" stroke-width="0.8" stroke-linejoin="round">articular</text>
<text transform="translate(1931.00,73.10) scale(1.0,1)" font-size="23.5" text-anchor="middle" fill="#231f20" stroke="#231f20" stroke-width="0.8" stroke-linejoin="round">angle</text>
</svg>
</body></html>
